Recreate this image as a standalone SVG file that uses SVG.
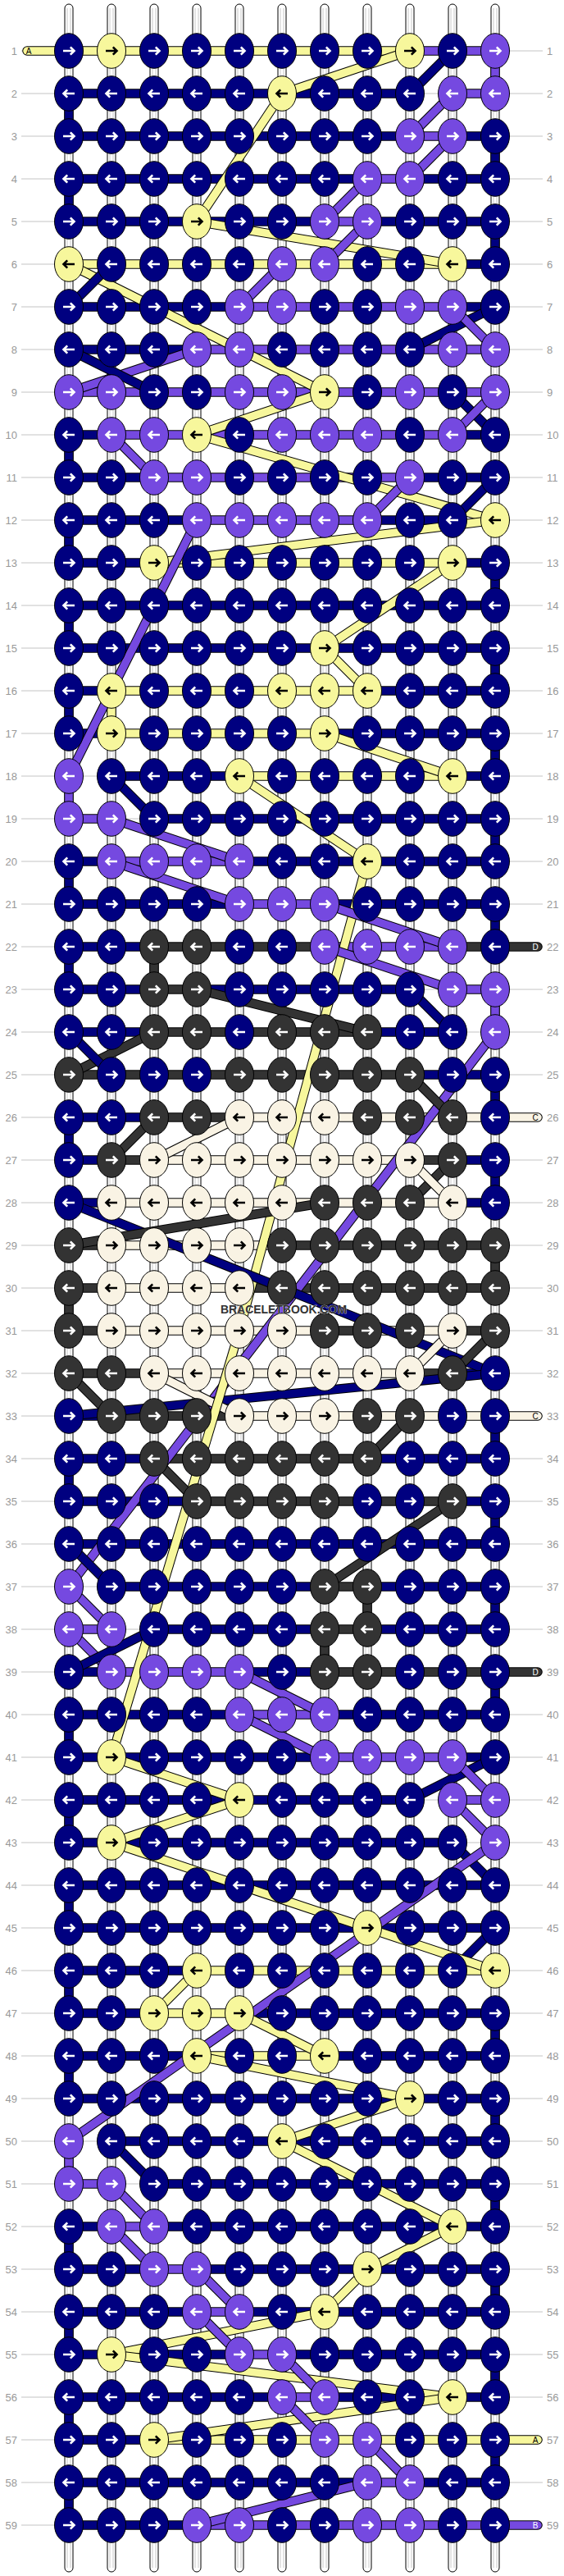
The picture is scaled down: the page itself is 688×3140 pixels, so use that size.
<svg xmlns="http://www.w3.org/2000/svg" xmlns:xlink="http://www.w3.org/1999/xlink" width="688" height="3140" viewBox="0 0 688 3140">
<style>
.k{stroke:#000;stroke-width:11.5;fill:none}
.n{stroke:#000080;stroke-width:9.5}
.p{stroke:#7549e0;stroke-width:9.5}
.y{stroke:#f7f79c;stroke-width:9.5}
.d{stroke:#333333;stroke-width:9.5}
.c{stroke:#f9f3e4;stroke-width:9.5}
.r{stroke-linecap:round}
.g{stroke:#c4c4c4;stroke-width:1}
.vs{fill:#fff;stroke:#000;stroke-width:1}
.vi{stroke:#c8c8c8;stroke-width:1}
ellipse{stroke:#000;stroke-width:1}
.eN{fill:#000080}.eP{fill:#7549e0}.eY{fill:#f7f79c}.eD{fill:#333333}.eC{fill:#f9f3e4}
.aw{fill:none;stroke:#fff;stroke-width:2.6}
.ab{fill:none;stroke:#000;stroke-width:2.6}
.lb{font-family:"Liberation Sans",Arial,sans-serif;font-size:13px;fill:#999}
.st{font-family:"Liberation Sans",Arial,sans-serif;font-size:10px;text-anchor:middle}
</style>
<defs>
<path id="ar" d="M-7 0H6M1.8 -4.6L6.5 0L1.8 4.6"/>
<g id="NR"><ellipse rx="17.5" ry="21.3" class="eN"/><use href="#ar" class="aw"/></g>
<g id="NL"><ellipse rx="17.5" ry="21.3" class="eN"/><use href="#ar" class="aw" transform="scale(-1,1)"/></g>
<g id="PR"><ellipse rx="17.5" ry="21.3" class="eP"/><use href="#ar" class="aw"/></g>
<g id="PL"><ellipse rx="17.5" ry="21.3" class="eP"/><use href="#ar" class="aw" transform="scale(-1,1)"/></g>
<g id="DR"><ellipse rx="17.5" ry="21.3" class="eD"/><use href="#ar" class="aw"/></g>
<g id="DL"><ellipse rx="17.5" ry="21.3" class="eD"/><use href="#ar" class="aw" transform="scale(-1,1)"/></g>
<g id="YR"><ellipse rx="17.5" ry="21.3" class="eY"/><use href="#ar" class="ab"/></g>
<g id="YL"><ellipse rx="17.5" ry="21.3" class="eY"/><use href="#ar" class="ab" transform="scale(-1,1)"/></g>
<g id="CR"><ellipse rx="17.5" ry="21.3" class="eC"/><use href="#ar" class="ab"/></g>
<g id="CL"><ellipse rx="17.5" ry="21.3" class="eC"/><use href="#ar" class="ab" transform="scale(-1,1)"/></g>
<g id="vstr"><path class="vs" d="M-5 3130V10A5 5 0 0 1 5 10V3130A5 5 0 0 1 -5 3130Z"/><path class="vi" d="M-2 10V3130M2 10V3130"/></g>
</defs>
<rect width="688" height="3140" fill="#fff"/>
<g id="guides">
<path class="g" d="M26 62H662M26 114H662M26 166H662M26 218H662M26 270H662M26 322H662M26 374H662M26 426H662M26 478H662M26 530H662M26 582H662M26 634H662M26 686H662M26 738H662M26 790H662M26 842H662M26 894H662M26 946H662M26 998H662M26 1050H662M26 1102H662M26 1154H662M26 1206H662M26 1258H662M26 1310H662M26 1362H662M26 1414H662M26 1466H662M26 1518H662M26 1570H662M26 1622H662M26 1674H662M26 1726H662M26 1778H662M26 1830H662M26 1882H662M26 1934H662M26 1986H662M26 2038H662M26 2090H662M26 2142H662M26 2194H662M26 2246H662M26 2298H662M26 2350H662M26 2402H662M26 2454H662M26 2506H662M26 2558H662M26 2610H662M26 2662H662M26 2714H662M26 2766H662M26 2818H662M26 2870H662M26 2922H662M26 2974H662M26 3026H662M26 3078H662"/>
</g>
<g id="strings">
<use href="#vstr" x="84"/><use href="#vstr" x="136"/><use href="#vstr" x="188"/><use href="#vstr" x="240"/><use href="#vstr" x="292"/><use href="#vstr" x="344"/><use href="#vstr" x="396"/><use href="#vstr" x="448"/><use href="#vstr" x="500"/><use href="#vstr" x="552"/><use href="#vstr" x="604"/>
</g>
<g id="connectors">
<g id="stubs">
<line class="k r" x1="33" y1="62" x2="84" y2="62"/><line class="y r" x1="33" y1="62" x2="84" y2="62"/>
<line class="k r" x1="604" y1="1154" x2="656" y2="1154"/><line class="d r" x1="604" y1="1154" x2="656" y2="1154"/>
<line class="k r" x1="604" y1="1362" x2="656" y2="1362"/><line class="c r" x1="604" y1="1362" x2="656" y2="1362"/>
<line class="k r" x1="604" y1="1726" x2="656" y2="1726"/><line class="c r" x1="604" y1="1726" x2="656" y2="1726"/>
<line class="k r" x1="604" y1="2038" x2="656" y2="2038"/><line class="d r" x1="604" y1="2038" x2="656" y2="2038"/>
<line class="k r" x1="604" y1="2974" x2="656" y2="2974"/><line class="y r" x1="604" y1="2974" x2="656" y2="2974"/>
<line class="k r" x1="604" y1="3078" x2="656" y2="3078"/><line class="p r" x1="604" y1="3078" x2="656" y2="3078"/>
</g>
<g id="rows">
<line class="k" x1="84" y1="62" x2="500" y2="62"/><line class="y" x1="84" y1="62" x2="500" y2="62"/>
<line class="k" x1="500" y1="62" x2="604" y2="62"/><line class="p" x1="500" y1="62" x2="604" y2="62"/>
<line class="k" x1="84" y1="114" x2="500" y2="114"/><line class="n" x1="84" y1="114" x2="500" y2="114"/>
<line class="k" x1="552" y1="114" x2="604" y2="114"/><line class="p" x1="552" y1="114" x2="604" y2="114"/>
<line class="k" x1="84" y1="166" x2="500" y2="166"/><line class="n" x1="84" y1="166" x2="500" y2="166"/>
<line class="k" x1="500" y1="166" x2="552" y2="166"/><line class="p" x1="500" y1="166" x2="552" y2="166"/>
<line class="k" x1="552" y1="166" x2="604" y2="166"/><line class="n" x1="552" y1="166" x2="604" y2="166"/>
<line class="k" x1="84" y1="218" x2="448" y2="218"/><line class="n" x1="84" y1="218" x2="448" y2="218"/>
<line class="k" x1="448" y1="218" x2="500" y2="218"/><line class="p" x1="448" y1="218" x2="500" y2="218"/>
<line class="k" x1="500" y1="218" x2="604" y2="218"/><line class="n" x1="500" y1="218" x2="604" y2="218"/>
<line class="k" x1="84" y1="270" x2="396" y2="270"/><line class="n" x1="84" y1="270" x2="396" y2="270"/>
<line class="k" x1="396" y1="270" x2="448" y2="270"/><line class="p" x1="396" y1="270" x2="448" y2="270"/>
<line class="k" x1="448" y1="270" x2="604" y2="270"/><line class="n" x1="448" y1="270" x2="604" y2="270"/>
<line class="k" x1="84" y1="322" x2="552" y2="322"/><line class="y" x1="84" y1="322" x2="552" y2="322"/>
<line class="k" x1="552" y1="322" x2="604" y2="322"/><line class="n" x1="552" y1="322" x2="604" y2="322"/>
<line class="k" x1="84" y1="374" x2="292" y2="374"/><line class="n" x1="84" y1="374" x2="292" y2="374"/>
<line class="k" x1="292" y1="374" x2="552" y2="374"/><line class="p" x1="292" y1="374" x2="552" y2="374"/>
<line class="k" x1="552" y1="374" x2="604" y2="374"/><line class="n" x1="552" y1="374" x2="604" y2="374"/>
<line class="k" x1="84" y1="426" x2="240" y2="426"/><line class="n" x1="84" y1="426" x2="240" y2="426"/>
<line class="k" x1="240" y1="426" x2="604" y2="426"/><line class="p" x1="240" y1="426" x2="604" y2="426"/>
<line class="k" x1="84" y1="478" x2="604" y2="478"/><line class="p" x1="84" y1="478" x2="604" y2="478"/>
<line class="k" x1="84" y1="530" x2="136" y2="530"/><line class="n" x1="84" y1="530" x2="136" y2="530"/>
<line class="k" x1="136" y1="530" x2="552" y2="530"/><line class="p" x1="136" y1="530" x2="552" y2="530"/>
<line class="k" x1="552" y1="530" x2="604" y2="530"/><line class="n" x1="552" y1="530" x2="604" y2="530"/>
<line class="k" x1="84" y1="582" x2="188" y2="582"/><line class="n" x1="84" y1="582" x2="188" y2="582"/>
<line class="k" x1="188" y1="582" x2="500" y2="582"/><line class="p" x1="188" y1="582" x2="500" y2="582"/>
<line class="k" x1="500" y1="582" x2="604" y2="582"/><line class="n" x1="500" y1="582" x2="604" y2="582"/>
<line class="k" x1="84" y1="634" x2="240" y2="634"/><line class="n" x1="84" y1="634" x2="240" y2="634"/>
<line class="k" x1="240" y1="634" x2="448" y2="634"/><line class="p" x1="240" y1="634" x2="448" y2="634"/>
<line class="k" x1="448" y1="634" x2="552" y2="634"/><line class="n" x1="448" y1="634" x2="552" y2="634"/>
<line class="k" x1="84" y1="686" x2="188" y2="686"/><line class="n" x1="84" y1="686" x2="188" y2="686"/>
<line class="k" x1="188" y1="686" x2="552" y2="686"/><line class="y" x1="188" y1="686" x2="552" y2="686"/>
<line class="k" x1="552" y1="686" x2="604" y2="686"/><line class="n" x1="552" y1="686" x2="604" y2="686"/>
<line class="k" x1="84" y1="738" x2="604" y2="738"/><line class="n" x1="84" y1="738" x2="604" y2="738"/>
<line class="k" x1="84" y1="790" x2="604" y2="790"/><line class="n" x1="84" y1="790" x2="604" y2="790"/>
<line class="k" x1="84" y1="842" x2="136" y2="842"/><line class="n" x1="84" y1="842" x2="136" y2="842"/>
<line class="k" x1="136" y1="842" x2="448" y2="842"/><line class="y" x1="136" y1="842" x2="448" y2="842"/>
<line class="k" x1="448" y1="842" x2="604" y2="842"/><line class="n" x1="448" y1="842" x2="604" y2="842"/>
<line class="k" x1="84" y1="894" x2="136" y2="894"/><line class="n" x1="84" y1="894" x2="136" y2="894"/>
<line class="k" x1="136" y1="894" x2="396" y2="894"/><line class="y" x1="136" y1="894" x2="396" y2="894"/>
<line class="k" x1="396" y1="894" x2="604" y2="894"/><line class="n" x1="396" y1="894" x2="604" y2="894"/>
<line class="k" x1="136" y1="946" x2="292" y2="946"/><line class="n" x1="136" y1="946" x2="292" y2="946"/>
<line class="k" x1="292" y1="946" x2="552" y2="946"/><line class="y" x1="292" y1="946" x2="552" y2="946"/>
<line class="k" x1="552" y1="946" x2="604" y2="946"/><line class="n" x1="552" y1="946" x2="604" y2="946"/>
<line class="k" x1="84" y1="998" x2="136" y2="998"/><line class="p" x1="84" y1="998" x2="136" y2="998"/>
<line class="k" x1="188" y1="998" x2="604" y2="998"/><line class="n" x1="188" y1="998" x2="604" y2="998"/>
<line class="k" x1="84" y1="1050" x2="136" y2="1050"/><line class="n" x1="84" y1="1050" x2="136" y2="1050"/>
<line class="k" x1="136" y1="1050" x2="292" y2="1050"/><line class="p" x1="136" y1="1050" x2="292" y2="1050"/>
<line class="k" x1="292" y1="1050" x2="604" y2="1050"/><line class="n" x1="292" y1="1050" x2="604" y2="1050"/>
<line class="k" x1="84" y1="1102" x2="292" y2="1102"/><line class="n" x1="84" y1="1102" x2="292" y2="1102"/>
<line class="k" x1="292" y1="1102" x2="396" y2="1102"/><line class="p" x1="292" y1="1102" x2="396" y2="1102"/>
<line class="k" x1="396" y1="1102" x2="604" y2="1102"/><line class="n" x1="396" y1="1102" x2="604" y2="1102"/>
<line class="k" x1="84" y1="1154" x2="188" y2="1154"/><line class="n" x1="84" y1="1154" x2="188" y2="1154"/>
<line class="k" x1="188" y1="1154" x2="396" y2="1154"/><line class="d" x1="188" y1="1154" x2="396" y2="1154"/>
<line class="k" x1="396" y1="1154" x2="552" y2="1154"/><line class="p" x1="396" y1="1154" x2="552" y2="1154"/>
<line class="k" x1="552" y1="1154" x2="604" y2="1154"/><line class="d" x1="552" y1="1154" x2="604" y2="1154"/>
<line class="k" x1="84" y1="1206" x2="188" y2="1206"/><line class="n" x1="84" y1="1206" x2="188" y2="1206"/>
<line class="k" x1="188" y1="1206" x2="240" y2="1206"/><line class="d" x1="188" y1="1206" x2="240" y2="1206"/>
<line class="k" x1="240" y1="1206" x2="500" y2="1206"/><line class="n" x1="240" y1="1206" x2="500" y2="1206"/>
<line class="k" x1="552" y1="1206" x2="604" y2="1206"/><line class="p" x1="552" y1="1206" x2="604" y2="1206"/>
<line class="k" x1="84" y1="1258" x2="188" y2="1258"/><line class="n" x1="84" y1="1258" x2="188" y2="1258"/>
<line class="k" x1="188" y1="1258" x2="448" y2="1258"/><line class="d" x1="188" y1="1258" x2="448" y2="1258"/>
<line class="k" x1="448" y1="1258" x2="552" y2="1258"/><line class="n" x1="448" y1="1258" x2="552" y2="1258"/>
<line class="k" x1="84" y1="1310" x2="500" y2="1310"/><line class="d" x1="84" y1="1310" x2="500" y2="1310"/>
<line class="k" x1="500" y1="1310" x2="604" y2="1310"/><line class="n" x1="500" y1="1310" x2="604" y2="1310"/>
<line class="k" x1="84" y1="1362" x2="188" y2="1362"/><line class="n" x1="84" y1="1362" x2="188" y2="1362"/>
<line class="k" x1="188" y1="1362" x2="292" y2="1362"/><line class="d" x1="188" y1="1362" x2="292" y2="1362"/>
<line class="k" x1="292" y1="1362" x2="604" y2="1362"/><line class="c" x1="292" y1="1362" x2="604" y2="1362"/>
<line class="k" x1="84" y1="1414" x2="136" y2="1414"/><line class="n" x1="84" y1="1414" x2="136" y2="1414"/>
<line class="k" x1="136" y1="1414" x2="188" y2="1414"/><line class="d" x1="136" y1="1414" x2="188" y2="1414"/>
<line class="k" x1="188" y1="1414" x2="500" y2="1414"/><line class="c" x1="188" y1="1414" x2="500" y2="1414"/>
<line class="k" x1="500" y1="1414" x2="552" y2="1414"/><line class="d" x1="500" y1="1414" x2="552" y2="1414"/>
<line class="k" x1="552" y1="1414" x2="604" y2="1414"/><line class="n" x1="552" y1="1414" x2="604" y2="1414"/>
<line class="k" x1="84" y1="1466" x2="136" y2="1466"/><line class="n" x1="84" y1="1466" x2="136" y2="1466"/>
<line class="k" x1="136" y1="1466" x2="552" y2="1466"/><line class="c" x1="136" y1="1466" x2="552" y2="1466"/>
<line class="k" x1="552" y1="1466" x2="604" y2="1466"/><line class="n" x1="552" y1="1466" x2="604" y2="1466"/>
<line class="k" x1="84" y1="1518" x2="136" y2="1518"/><line class="d" x1="84" y1="1518" x2="136" y2="1518"/>
<line class="k" x1="136" y1="1518" x2="344" y2="1518"/><line class="c" x1="136" y1="1518" x2="344" y2="1518"/>
<line class="k" x1="344" y1="1518" x2="604" y2="1518"/><line class="d" x1="344" y1="1518" x2="604" y2="1518"/>
<line class="k" x1="84" y1="1570" x2="136" y2="1570"/><line class="d" x1="84" y1="1570" x2="136" y2="1570"/>
<line class="k" x1="136" y1="1570" x2="292" y2="1570"/><line class="c" x1="136" y1="1570" x2="292" y2="1570"/>
<line class="k" x1="292" y1="1570" x2="604" y2="1570"/><line class="d" x1="292" y1="1570" x2="604" y2="1570"/>
<line class="k" x1="84" y1="1622" x2="136" y2="1622"/><line class="d" x1="84" y1="1622" x2="136" y2="1622"/>
<line class="k" x1="136" y1="1622" x2="396" y2="1622"/><line class="c" x1="136" y1="1622" x2="396" y2="1622"/>
<line class="k" x1="396" y1="1622" x2="448" y2="1622"/><line class="d" x1="396" y1="1622" x2="448" y2="1622"/>
<line class="k" x1="448" y1="1622" x2="552" y2="1622"/><line class="c" x1="448" y1="1622" x2="552" y2="1622"/>
<line class="k" x1="552" y1="1622" x2="604" y2="1622"/><line class="d" x1="552" y1="1622" x2="604" y2="1622"/>
<line class="k" x1="84" y1="1674" x2="188" y2="1674"/><line class="d" x1="84" y1="1674" x2="188" y2="1674"/>
<line class="k" x1="188" y1="1674" x2="500" y2="1674"/><line class="c" x1="188" y1="1674" x2="500" y2="1674"/>
<line class="k" x1="500" y1="1674" x2="552" y2="1674"/><line class="d" x1="500" y1="1674" x2="552" y2="1674"/>
<line class="k" x1="552" y1="1674" x2="604" y2="1674"/><line class="n" x1="552" y1="1674" x2="604" y2="1674"/>
<line class="k" x1="84" y1="1726" x2="136" y2="1726"/><line class="n" x1="84" y1="1726" x2="136" y2="1726"/>
<line class="k" x1="136" y1="1726" x2="292" y2="1726"/><line class="d" x1="136" y1="1726" x2="292" y2="1726"/>
<line class="k" x1="292" y1="1726" x2="604" y2="1726"/><line class="c" x1="292" y1="1726" x2="604" y2="1726"/>
<line class="k" x1="84" y1="1778" x2="188" y2="1778"/><line class="n" x1="84" y1="1778" x2="188" y2="1778"/>
<line class="k" x1="188" y1="1778" x2="448" y2="1778"/><line class="d" x1="188" y1="1778" x2="448" y2="1778"/>
<line class="k" x1="448" y1="1778" x2="604" y2="1778"/><line class="n" x1="448" y1="1778" x2="604" y2="1778"/>
<line class="k" x1="84" y1="1830" x2="240" y2="1830"/><line class="n" x1="84" y1="1830" x2="240" y2="1830"/>
<line class="k" x1="240" y1="1830" x2="552" y2="1830"/><line class="d" x1="240" y1="1830" x2="552" y2="1830"/>
<line class="k" x1="552" y1="1830" x2="604" y2="1830"/><line class="n" x1="552" y1="1830" x2="604" y2="1830"/>
<line class="k" x1="84" y1="1882" x2="604" y2="1882"/><line class="n" x1="84" y1="1882" x2="604" y2="1882"/>
<line class="k" x1="136" y1="1934" x2="396" y2="1934"/><line class="n" x1="136" y1="1934" x2="396" y2="1934"/>
<line class="k" x1="396" y1="1934" x2="448" y2="1934"/><line class="d" x1="396" y1="1934" x2="448" y2="1934"/>
<line class="k" x1="448" y1="1934" x2="604" y2="1934"/><line class="n" x1="448" y1="1934" x2="604" y2="1934"/>
<line class="k" x1="84" y1="1986" x2="136" y2="1986"/><line class="p" x1="84" y1="1986" x2="136" y2="1986"/>
<line class="k" x1="188" y1="1986" x2="396" y2="1986"/><line class="n" x1="188" y1="1986" x2="396" y2="1986"/>
<line class="k" x1="396" y1="1986" x2="448" y2="1986"/><line class="d" x1="396" y1="1986" x2="448" y2="1986"/>
<line class="k" x1="448" y1="1986" x2="604" y2="1986"/><line class="n" x1="448" y1="1986" x2="604" y2="1986"/>
<line class="k" x1="84" y1="2038" x2="136" y2="2038"/><line class="n" x1="84" y1="2038" x2="136" y2="2038"/>
<line class="k" x1="136" y1="2038" x2="292" y2="2038"/><line class="p" x1="136" y1="2038" x2="292" y2="2038"/>
<line class="k" x1="292" y1="2038" x2="396" y2="2038"/><line class="n" x1="292" y1="2038" x2="396" y2="2038"/>
<line class="k" x1="396" y1="2038" x2="604" y2="2038"/><line class="d" x1="396" y1="2038" x2="604" y2="2038"/>
<line class="k" x1="84" y1="2090" x2="292" y2="2090"/><line class="n" x1="84" y1="2090" x2="292" y2="2090"/>
<line class="k" x1="292" y1="2090" x2="396" y2="2090"/><line class="p" x1="292" y1="2090" x2="396" y2="2090"/>
<line class="k" x1="396" y1="2090" x2="604" y2="2090"/><line class="n" x1="396" y1="2090" x2="604" y2="2090"/>
<line class="k" x1="84" y1="2142" x2="396" y2="2142"/><line class="n" x1="84" y1="2142" x2="396" y2="2142"/>
<line class="k" x1="396" y1="2142" x2="552" y2="2142"/><line class="p" x1="396" y1="2142" x2="552" y2="2142"/>
<line class="k" x1="552" y1="2142" x2="604" y2="2142"/><line class="n" x1="552" y1="2142" x2="604" y2="2142"/>
<line class="k" x1="84" y1="2194" x2="500" y2="2194"/><line class="n" x1="84" y1="2194" x2="500" y2="2194"/>
<line class="k" x1="552" y1="2194" x2="604" y2="2194"/><line class="p" x1="552" y1="2194" x2="604" y2="2194"/>
<line class="k" x1="84" y1="2246" x2="552" y2="2246"/><line class="n" x1="84" y1="2246" x2="552" y2="2246"/>
<line class="k" x1="84" y1="2298" x2="604" y2="2298"/><line class="n" x1="84" y1="2298" x2="604" y2="2298"/>
<line class="k" x1="84" y1="2350" x2="604" y2="2350"/><line class="n" x1="84" y1="2350" x2="604" y2="2350"/>
<line class="k" x1="84" y1="2402" x2="240" y2="2402"/><line class="n" x1="84" y1="2402" x2="240" y2="2402"/>
<line class="k" x1="240" y1="2402" x2="604" y2="2402"/><line class="y" x1="240" y1="2402" x2="604" y2="2402"/>
<line class="k" x1="84" y1="2454" x2="188" y2="2454"/><line class="n" x1="84" y1="2454" x2="188" y2="2454"/>
<line class="k" x1="188" y1="2454" x2="292" y2="2454"/><line class="y" x1="188" y1="2454" x2="292" y2="2454"/>
<line class="k" x1="292" y1="2454" x2="604" y2="2454"/><line class="n" x1="292" y1="2454" x2="604" y2="2454"/>
<line class="k" x1="84" y1="2506" x2="240" y2="2506"/><line class="n" x1="84" y1="2506" x2="240" y2="2506"/>
<line class="k" x1="240" y1="2506" x2="396" y2="2506"/><line class="y" x1="240" y1="2506" x2="396" y2="2506"/>
<line class="k" x1="396" y1="2506" x2="604" y2="2506"/><line class="n" x1="396" y1="2506" x2="604" y2="2506"/>
<line class="k" x1="84" y1="2558" x2="604" y2="2558"/><line class="n" x1="84" y1="2558" x2="604" y2="2558"/>
<line class="k" x1="136" y1="2610" x2="604" y2="2610"/><line class="n" x1="136" y1="2610" x2="604" y2="2610"/>
<line class="k" x1="84" y1="2662" x2="136" y2="2662"/><line class="p" x1="84" y1="2662" x2="136" y2="2662"/>
<line class="k" x1="188" y1="2662" x2="604" y2="2662"/><line class="n" x1="188" y1="2662" x2="604" y2="2662"/>
<line class="k" x1="84" y1="2714" x2="136" y2="2714"/><line class="n" x1="84" y1="2714" x2="136" y2="2714"/>
<line class="k" x1="136" y1="2714" x2="188" y2="2714"/><line class="p" x1="136" y1="2714" x2="188" y2="2714"/>
<line class="k" x1="188" y1="2714" x2="604" y2="2714"/><line class="n" x1="188" y1="2714" x2="604" y2="2714"/>
<line class="k" x1="84" y1="2766" x2="188" y2="2766"/><line class="n" x1="84" y1="2766" x2="188" y2="2766"/>
<line class="k" x1="188" y1="2766" x2="240" y2="2766"/><line class="p" x1="188" y1="2766" x2="240" y2="2766"/>
<line class="k" x1="240" y1="2766" x2="604" y2="2766"/><line class="n" x1="240" y1="2766" x2="604" y2="2766"/>
<line class="k" x1="84" y1="2818" x2="240" y2="2818"/><line class="n" x1="84" y1="2818" x2="240" y2="2818"/>
<line class="k" x1="240" y1="2818" x2="292" y2="2818"/><line class="p" x1="240" y1="2818" x2="292" y2="2818"/>
<line class="k" x1="292" y1="2818" x2="604" y2="2818"/><line class="n" x1="292" y1="2818" x2="604" y2="2818"/>
<line class="k" x1="84" y1="2870" x2="292" y2="2870"/><line class="n" x1="84" y1="2870" x2="292" y2="2870"/>
<line class="k" x1="292" y1="2870" x2="344" y2="2870"/><line class="p" x1="292" y1="2870" x2="344" y2="2870"/>
<line class="k" x1="344" y1="2870" x2="604" y2="2870"/><line class="n" x1="344" y1="2870" x2="604" y2="2870"/>
<line class="k" x1="84" y1="2922" x2="344" y2="2922"/><line class="n" x1="84" y1="2922" x2="344" y2="2922"/>
<line class="k" x1="344" y1="2922" x2="396" y2="2922"/><line class="p" x1="344" y1="2922" x2="396" y2="2922"/>
<line class="k" x1="396" y1="2922" x2="604" y2="2922"/><line class="n" x1="396" y1="2922" x2="604" y2="2922"/>
<line class="k" x1="84" y1="2974" x2="188" y2="2974"/><line class="n" x1="84" y1="2974" x2="188" y2="2974"/>
<line class="k" x1="188" y1="2974" x2="604" y2="2974"/><line class="y" x1="188" y1="2974" x2="604" y2="2974"/>
<line class="k" x1="84" y1="3026" x2="448" y2="3026"/><line class="n" x1="84" y1="3026" x2="448" y2="3026"/>
<line class="k" x1="448" y1="3026" x2="500" y2="3026"/><line class="p" x1="448" y1="3026" x2="500" y2="3026"/>
<line class="k" x1="500" y1="3026" x2="604" y2="3026"/><line class="n" x1="500" y1="3026" x2="604" y2="3026"/>
<line class="k" x1="84" y1="3078" x2="240" y2="3078"/><line class="n" x1="84" y1="3078" x2="240" y2="3078"/>
<line class="k" x1="240" y1="3078" x2="604" y2="3078"/><line class="p" x1="240" y1="3078" x2="604" y2="3078"/>
</g>
<g id="turns">
<line class="k" x1="604" y1="62" x2="604" y2="114"/><line class="p" x1="604" y1="62" x2="604" y2="114"/>
<line class="k" x1="84" y1="114" x2="84" y2="166"/><line class="n" x1="84" y1="114" x2="84" y2="166"/>
<line class="k" x1="604" y1="166" x2="604" y2="218"/><line class="n" x1="604" y1="166" x2="604" y2="218"/>
<line class="k" x1="84" y1="218" x2="84" y2="270"/><line class="n" x1="84" y1="218" x2="84" y2="270"/>
<line class="k" x1="604" y1="270" x2="604" y2="322"/><line class="n" x1="604" y1="270" x2="604" y2="322"/>
<line class="k" x1="84" y1="530" x2="84" y2="582"/><line class="n" x1="84" y1="530" x2="84" y2="582"/>
<line class="k" x1="84" y1="634" x2="84" y2="686"/><line class="n" x1="84" y1="634" x2="84" y2="686"/>
<line class="k" x1="604" y1="686" x2="604" y2="738"/><line class="n" x1="604" y1="686" x2="604" y2="738"/>
<line class="k" x1="84" y1="738" x2="84" y2="790"/><line class="n" x1="84" y1="738" x2="84" y2="790"/>
<line class="k" x1="604" y1="790" x2="604" y2="842"/><line class="n" x1="604" y1="790" x2="604" y2="842"/>
<line class="k" x1="84" y1="842" x2="84" y2="894"/><line class="n" x1="84" y1="842" x2="84" y2="894"/>
<line class="k" x1="136" y1="842" x2="136" y2="894"/><line class="y" x1="136" y1="842" x2="136" y2="894"/>
<line class="k" x1="604" y1="894" x2="604" y2="946"/><line class="n" x1="604" y1="894" x2="604" y2="946"/>
<line class="k" x1="84" y1="946" x2="84" y2="998"/><line class="p" x1="84" y1="946" x2="84" y2="998"/>
<line class="k" x1="604" y1="998" x2="604" y2="1050"/><line class="n" x1="604" y1="998" x2="604" y2="1050"/>
<line class="k" x1="84" y1="1050" x2="84" y2="1102"/><line class="n" x1="84" y1="1050" x2="84" y2="1102"/>
<line class="k" x1="604" y1="1102" x2="604" y2="1154"/><line class="n" x1="604" y1="1102" x2="604" y2="1154"/>
<line class="k" x1="84" y1="1154" x2="84" y2="1206"/><line class="n" x1="84" y1="1154" x2="84" y2="1206"/>
<line class="k" x1="188" y1="1154" x2="188" y2="1206"/><line class="d" x1="188" y1="1154" x2="188" y2="1206"/>
<line class="k" x1="604" y1="1206" x2="604" y2="1258"/><line class="p" x1="604" y1="1206" x2="604" y2="1258"/>
<line class="k" x1="604" y1="1310" x2="604" y2="1362"/><line class="n" x1="604" y1="1310" x2="604" y2="1362"/>
<line class="k" x1="84" y1="1362" x2="84" y2="1414"/><line class="n" x1="84" y1="1362" x2="84" y2="1414"/>
<line class="k" x1="604" y1="1414" x2="604" y2="1466"/><line class="n" x1="604" y1="1414" x2="604" y2="1466"/>
<line class="k" x1="604" y1="1518" x2="604" y2="1570"/><line class="d" x1="604" y1="1518" x2="604" y2="1570"/>
<line class="k" x1="84" y1="1570" x2="84" y2="1622"/><line class="d" x1="84" y1="1570" x2="84" y2="1622"/>
<line class="k" x1="604" y1="1726" x2="604" y2="1778"/><line class="n" x1="604" y1="1726" x2="604" y2="1778"/>
<line class="k" x1="84" y1="1778" x2="84" y2="1830"/><line class="n" x1="84" y1="1778" x2="84" y2="1830"/>
<line class="k" x1="604" y1="1830" x2="604" y2="1882"/><line class="n" x1="604" y1="1830" x2="604" y2="1882"/>
<line class="k" x1="604" y1="1934" x2="604" y2="1986"/><line class="n" x1="604" y1="1934" x2="604" y2="1986"/>
<line class="k" x1="448" y1="1934" x2="448" y2="1986"/><line class="d" x1="448" y1="1934" x2="448" y2="1986"/>
<line class="k" x1="396" y1="1986" x2="396" y2="2038"/><line class="d" x1="396" y1="1986" x2="396" y2="2038"/>
<line class="k" x1="604" y1="2038" x2="604" y2="2090"/><line class="n" x1="604" y1="2038" x2="604" y2="2090"/>
<line class="k" x1="84" y1="2090" x2="84" y2="2142"/><line class="n" x1="84" y1="2090" x2="84" y2="2142"/>
<line class="k" x1="84" y1="2194" x2="84" y2="2246"/><line class="n" x1="84" y1="2194" x2="84" y2="2246"/>
<line class="k" x1="84" y1="2298" x2="84" y2="2350"/><line class="n" x1="84" y1="2298" x2="84" y2="2350"/>
<line class="k" x1="84" y1="2402" x2="84" y2="2454"/><line class="n" x1="84" y1="2402" x2="84" y2="2454"/>
<line class="k" x1="604" y1="2454" x2="604" y2="2506"/><line class="n" x1="604" y1="2454" x2="604" y2="2506"/>
<line class="k" x1="84" y1="2506" x2="84" y2="2558"/><line class="n" x1="84" y1="2506" x2="84" y2="2558"/>
<line class="k" x1="604" y1="2558" x2="604" y2="2610"/><line class="n" x1="604" y1="2558" x2="604" y2="2610"/>
<line class="k" x1="84" y1="2610" x2="84" y2="2662"/><line class="p" x1="84" y1="2610" x2="84" y2="2662"/>
<line class="k" x1="604" y1="2662" x2="604" y2="2714"/><line class="n" x1="604" y1="2662" x2="604" y2="2714"/>
<line class="k" x1="84" y1="2714" x2="84" y2="2766"/><line class="n" x1="84" y1="2714" x2="84" y2="2766"/>
<line class="k" x1="604" y1="2766" x2="604" y2="2818"/><line class="n" x1="604" y1="2766" x2="604" y2="2818"/>
<line class="k" x1="84" y1="2818" x2="84" y2="2870"/><line class="n" x1="84" y1="2818" x2="84" y2="2870"/>
<line class="k" x1="604" y1="2870" x2="604" y2="2922"/><line class="n" x1="604" y1="2870" x2="604" y2="2922"/>
<line class="k" x1="84" y1="2922" x2="84" y2="2974"/><line class="n" x1="84" y1="2922" x2="84" y2="2974"/>
<line class="k" x1="604" y1="2974" x2="604" y2="3026"/><line class="n" x1="604" y1="2974" x2="604" y2="3026"/>
<line class="k" x1="84" y1="3026" x2="84" y2="3078"/><line class="n" x1="84" y1="3026" x2="84" y2="3078"/>
</g>
<g id="diagonals">
<line class="k" x1="500" y1="62" x2="344" y2="114"/><line class="y" x1="500" y1="62" x2="344" y2="114"/>
<line class="k" x1="552" y1="62" x2="500" y2="114"/><line class="n" x1="552" y1="62" x2="500" y2="114"/>
<line class="k" x1="344" y1="114" x2="240" y2="270"/><line class="y" x1="344" y1="114" x2="240" y2="270"/>
<line class="k" x1="552" y1="114" x2="500" y2="166"/><line class="p" x1="552" y1="114" x2="500" y2="166"/>
<line class="k" x1="552" y1="166" x2="500" y2="218"/><line class="p" x1="552" y1="166" x2="500" y2="218"/>
<line class="k" x1="448" y1="218" x2="396" y2="270"/><line class="p" x1="448" y1="218" x2="396" y2="270"/>
<line class="k" x1="240" y1="270" x2="552" y2="322"/><line class="y" x1="240" y1="270" x2="552" y2="322"/>
<line class="k" x1="448" y1="270" x2="396" y2="322"/><line class="p" x1="448" y1="270" x2="396" y2="322"/>
<line class="k" x1="84" y1="322" x2="396" y2="478"/><line class="y" x1="84" y1="322" x2="396" y2="478"/>
<line class="k" x1="136" y1="322" x2="84" y2="374"/><line class="n" x1="136" y1="322" x2="84" y2="374"/>
<line class="k" x1="344" y1="322" x2="292" y2="374"/><line class="p" x1="344" y1="322" x2="292" y2="374"/>
<line class="k" x1="604" y1="374" x2="500" y2="426"/><line class="n" x1="604" y1="374" x2="500" y2="426"/>
<line class="k" x1="552" y1="374" x2="604" y2="426"/><line class="p" x1="552" y1="374" x2="604" y2="426"/>
<line class="k" x1="240" y1="426" x2="84" y2="478"/><line class="p" x1="240" y1="426" x2="84" y2="478"/>
<line class="k" x1="84" y1="426" x2="188" y2="478"/><line class="n" x1="84" y1="426" x2="188" y2="478"/>
<line class="k" x1="396" y1="478" x2="240" y2="530"/><line class="y" x1="396" y1="478" x2="240" y2="530"/>
<line class="k" x1="552" y1="478" x2="604" y2="530"/><line class="n" x1="552" y1="478" x2="604" y2="530"/>
<line class="k" x1="604" y1="478" x2="552" y2="530"/><line class="p" x1="604" y1="478" x2="552" y2="530"/>
<line class="k" x1="240" y1="530" x2="604" y2="634"/><line class="y" x1="240" y1="530" x2="604" y2="634"/>
<line class="k" x1="136" y1="530" x2="188" y2="582"/><line class="p" x1="136" y1="530" x2="188" y2="582"/>
<line class="k" x1="604" y1="582" x2="552" y2="634"/><line class="n" x1="604" y1="582" x2="552" y2="634"/>
<line class="k" x1="500" y1="582" x2="448" y2="634"/><line class="p" x1="500" y1="582" x2="448" y2="634"/>
<line class="k" x1="604" y1="634" x2="188" y2="686"/><line class="y" x1="604" y1="634" x2="188" y2="686"/>
<line class="k" x1="240" y1="634" x2="84" y2="946"/><line class="p" x1="240" y1="634" x2="84" y2="946"/>
<line class="k" x1="552" y1="686" x2="396" y2="790"/><line class="y" x1="552" y1="686" x2="396" y2="790"/>
<line class="k" x1="396" y1="790" x2="448" y2="842"/><line class="y" x1="396" y1="790" x2="448" y2="842"/>
<line class="k" x1="396" y1="894" x2="552" y2="946"/><line class="y" x1="396" y1="894" x2="552" y2="946"/>
<line class="k" x1="136" y1="946" x2="188" y2="998"/><line class="n" x1="136" y1="946" x2="188" y2="998"/>
<line class="k" x1="292" y1="946" x2="448" y2="1050"/><line class="y" x1="292" y1="946" x2="448" y2="1050"/>
<line class="k" x1="136" y1="998" x2="292" y2="1050"/><line class="p" x1="136" y1="998" x2="292" y2="1050"/>
<line class="k" x1="136" y1="1050" x2="292" y2="1102"/><line class="p" x1="136" y1="1050" x2="292" y2="1102"/>
<line class="k" x1="448" y1="1050" x2="292" y2="1622"/><line class="y" x1="448" y1="1050" x2="292" y2="1622"/>
<line class="k" x1="396" y1="1102" x2="552" y2="1154"/><line class="p" x1="396" y1="1102" x2="552" y2="1154"/>
<line class="k" x1="396" y1="1154" x2="552" y2="1206"/><line class="p" x1="396" y1="1154" x2="552" y2="1206"/>
<line class="k" x1="240" y1="1206" x2="448" y2="1258"/><line class="d" x1="240" y1="1206" x2="448" y2="1258"/>
<line class="k" x1="500" y1="1206" x2="552" y2="1258"/><line class="n" x1="500" y1="1206" x2="552" y2="1258"/>
<line class="k" x1="188" y1="1258" x2="84" y2="1310"/><line class="d" x1="188" y1="1258" x2="84" y2="1310"/>
<line class="k" x1="84" y1="1258" x2="136" y2="1310"/><line class="n" x1="84" y1="1258" x2="136" y2="1310"/>
<line class="k" x1="604" y1="1258" x2="84" y2="1934"/><line class="p" x1="604" y1="1258" x2="84" y2="1934"/>
<line class="k" x1="500" y1="1310" x2="552" y2="1362"/><line class="d" x1="500" y1="1310" x2="552" y2="1362"/>
<line class="k" x1="292" y1="1362" x2="188" y2="1414"/><line class="c" x1="292" y1="1362" x2="188" y2="1414"/>
<line class="k" x1="188" y1="1362" x2="136" y2="1414"/><line class="d" x1="188" y1="1362" x2="136" y2="1414"/>
<line class="k" x1="552" y1="1414" x2="500" y2="1466"/><line class="d" x1="552" y1="1414" x2="500" y2="1466"/>
<line class="k" x1="500" y1="1414" x2="552" y2="1466"/><line class="c" x1="500" y1="1414" x2="552" y2="1466"/>
<line class="k" x1="84" y1="1466" x2="604" y2="1674"/><line class="n" x1="84" y1="1466" x2="604" y2="1674"/>
<line class="k" x1="396" y1="1466" x2="84" y2="1518"/><line class="d" x1="396" y1="1466" x2="84" y2="1518"/>
<line class="k" x1="604" y1="1622" x2="552" y2="1674"/><line class="d" x1="604" y1="1622" x2="552" y2="1674"/>
<line class="k" x1="552" y1="1622" x2="500" y2="1674"/><line class="c" x1="552" y1="1622" x2="500" y2="1674"/>
<line class="k" x1="604" y1="1674" x2="84" y2="1726"/><line class="n" x1="604" y1="1674" x2="84" y2="1726"/>
<line class="k" x1="84" y1="1674" x2="136" y2="1726"/><line class="d" x1="84" y1="1674" x2="136" y2="1726"/>
<line class="k" x1="188" y1="1674" x2="292" y2="1726"/><line class="c" x1="188" y1="1674" x2="292" y2="1726"/>
<line class="k" x1="500" y1="1726" x2="448" y2="1778"/><line class="d" x1="500" y1="1726" x2="448" y2="1778"/>
<line class="k" x1="188" y1="1778" x2="240" y2="1830"/><line class="d" x1="188" y1="1778" x2="240" y2="1830"/>
<line class="k" x1="552" y1="1830" x2="396" y2="1934"/><line class="d" x1="552" y1="1830" x2="396" y2="1934"/>
<line class="k" x1="84" y1="1882" x2="136" y2="1934"/><line class="n" x1="84" y1="1882" x2="136" y2="1934"/>
<line class="k" x1="84" y1="1934" x2="136" y2="1986"/><line class="p" x1="84" y1="1934" x2="136" y2="1986"/>
<line class="k" x1="84" y1="1986" x2="136" y2="2038"/><line class="p" x1="84" y1="1986" x2="136" y2="2038"/>
<line class="k" x1="188" y1="1986" x2="84" y2="2038"/><line class="n" x1="188" y1="1986" x2="84" y2="2038"/>
<line class="k" x1="292" y1="1622" x2="136" y2="2142"/><line class="y" x1="292" y1="1622" x2="136" y2="2142"/>
<line class="k" x1="292" y1="2038" x2="396" y2="2090"/><line class="p" x1="292" y1="2038" x2="396" y2="2090"/>
<line class="k" x1="292" y1="2090" x2="396" y2="2142"/><line class="p" x1="292" y1="2090" x2="396" y2="2142"/>
<line class="k" x1="604" y1="2142" x2="500" y2="2194"/><line class="n" x1="604" y1="2142" x2="500" y2="2194"/>
<line class="k" x1="552" y1="2142" x2="604" y2="2194"/><line class="p" x1="552" y1="2142" x2="604" y2="2194"/>
<line class="k" x1="136" y1="2142" x2="292" y2="2194"/><line class="y" x1="136" y1="2142" x2="292" y2="2194"/>
<line class="k" x1="292" y1="2194" x2="136" y2="2246"/><line class="y" x1="292" y1="2194" x2="136" y2="2246"/>
<line class="k" x1="552" y1="2194" x2="604" y2="2246"/><line class="p" x1="552" y1="2194" x2="604" y2="2246"/>
<line class="k" x1="136" y1="2246" x2="448" y2="2350"/><line class="y" x1="136" y1="2246" x2="448" y2="2350"/>
<line class="k" x1="552" y1="2246" x2="604" y2="2298"/><line class="n" x1="552" y1="2246" x2="604" y2="2298"/>
<line class="k" x1="604" y1="2246" x2="84" y2="2610"/><line class="p" x1="604" y1="2246" x2="84" y2="2610"/>
<line class="k" x1="604" y1="2350" x2="552" y2="2402"/><line class="n" x1="604" y1="2350" x2="552" y2="2402"/>
<line class="k" x1="448" y1="2350" x2="604" y2="2402"/><line class="y" x1="448" y1="2350" x2="604" y2="2402"/>
<line class="k" x1="240" y1="2402" x2="188" y2="2454"/><line class="y" x1="240" y1="2402" x2="188" y2="2454"/>
<line class="k" x1="292" y1="2454" x2="396" y2="2506"/><line class="y" x1="292" y1="2454" x2="396" y2="2506"/>
<line class="k" x1="240" y1="2506" x2="500" y2="2558"/><line class="y" x1="240" y1="2506" x2="500" y2="2558"/>
<line class="k" x1="500" y1="2558" x2="344" y2="2610"/><line class="y" x1="500" y1="2558" x2="344" y2="2610"/>
<line class="k" x1="136" y1="2610" x2="188" y2="2662"/><line class="n" x1="136" y1="2610" x2="188" y2="2662"/>
<line class="k" x1="344" y1="2610" x2="552" y2="2714"/><line class="y" x1="344" y1="2610" x2="552" y2="2714"/>
<line class="k" x1="136" y1="2662" x2="188" y2="2714"/><line class="p" x1="136" y1="2662" x2="188" y2="2714"/>
<line class="k" x1="136" y1="2714" x2="188" y2="2766"/><line class="p" x1="136" y1="2714" x2="188" y2="2766"/>
<line class="k" x1="552" y1="2714" x2="448" y2="2766"/><line class="y" x1="552" y1="2714" x2="448" y2="2766"/>
<line class="k" x1="240" y1="2766" x2="292" y2="2818"/><line class="p" x1="240" y1="2766" x2="292" y2="2818"/>
<line class="k" x1="448" y1="2766" x2="396" y2="2818"/><line class="y" x1="448" y1="2766" x2="396" y2="2818"/>
<line class="k" x1="396" y1="2818" x2="136" y2="2870"/><line class="y" x1="396" y1="2818" x2="136" y2="2870"/>
<line class="k" x1="240" y1="2818" x2="292" y2="2870"/><line class="p" x1="240" y1="2818" x2="292" y2="2870"/>
<line class="k" x1="136" y1="2870" x2="552" y2="2922"/><line class="y" x1="136" y1="2870" x2="552" y2="2922"/>
<line class="k" x1="344" y1="2870" x2="396" y2="2922"/><line class="p" x1="344" y1="2870" x2="396" y2="2922"/>
<line class="k" x1="552" y1="2922" x2="188" y2="2974"/><line class="y" x1="552" y1="2922" x2="188" y2="2974"/>
<line class="k" x1="344" y1="2922" x2="396" y2="2974"/><line class="p" x1="344" y1="2922" x2="396" y2="2974"/>
<line class="k" x1="448" y1="2974" x2="500" y2="3026"/><line class="p" x1="448" y1="2974" x2="500" y2="3026"/>
<line class="k" x1="448" y1="3026" x2="240" y2="3078"/><line class="p" x1="448" y1="3026" x2="240" y2="3078"/>
</g>
</g>
<g id="nodes">
<g id="k1-1"><use href="#NR" x="84" y="62"/></g><g id="k1-2"><use href="#YR" x="136" y="62"/></g><g id="k1-3"><use href="#NR" x="188" y="62"/></g><g id="k1-4"><use href="#NR" x="240" y="62"/></g><g id="k1-5"><use href="#NR" x="292" y="62"/></g><g id="k1-6"><use href="#NR" x="344" y="62"/></g><g id="k1-7"><use href="#NR" x="396" y="62"/></g><g id="k1-8"><use href="#NR" x="448" y="62"/></g><g id="k1-9"><use href="#YR" x="500" y="62"/></g><g id="k1-10"><use href="#NR" x="552" y="62"/></g><g id="k1-11"><use href="#PR" x="604" y="62"/></g>
<g id="k2-1"><use href="#NL" x="84" y="114"/></g><g id="k2-2"><use href="#NL" x="136" y="114"/></g><g id="k2-3"><use href="#NL" x="188" y="114"/></g><g id="k2-4"><use href="#NL" x="240" y="114"/></g><g id="k2-5"><use href="#NL" x="292" y="114"/></g><g id="k2-6"><use href="#YL" x="344" y="114"/></g><g id="k2-7"><use href="#NL" x="396" y="114"/></g><g id="k2-8"><use href="#NL" x="448" y="114"/></g><g id="k2-9"><use href="#NL" x="500" y="114"/></g><g id="k2-10"><use href="#PL" x="552" y="114"/></g><g id="k2-11"><use href="#PL" x="604" y="114"/></g>
<g id="k3-1"><use href="#NR" x="84" y="166"/></g><g id="k3-2"><use href="#NR" x="136" y="166"/></g><g id="k3-3"><use href="#NR" x="188" y="166"/></g><g id="k3-4"><use href="#NR" x="240" y="166"/></g><g id="k3-5"><use href="#NR" x="292" y="166"/></g><g id="k3-6"><use href="#NR" x="344" y="166"/></g><g id="k3-7"><use href="#NR" x="396" y="166"/></g><g id="k3-8"><use href="#NR" x="448" y="166"/></g><g id="k3-9"><use href="#PR" x="500" y="166"/></g><g id="k3-10"><use href="#PR" x="552" y="166"/></g><g id="k3-11"><use href="#NR" x="604" y="166"/></g>
<g id="k4-1"><use href="#NL" x="84" y="218"/></g><g id="k4-2"><use href="#NL" x="136" y="218"/></g><g id="k4-3"><use href="#NL" x="188" y="218"/></g><g id="k4-4"><use href="#NL" x="240" y="218"/></g><g id="k4-5"><use href="#NL" x="292" y="218"/></g><g id="k4-6"><use href="#NL" x="344" y="218"/></g><g id="k4-7"><use href="#NL" x="396" y="218"/></g><g id="k4-8"><use href="#PL" x="448" y="218"/></g><g id="k4-9"><use href="#PL" x="500" y="218"/></g><g id="k4-10"><use href="#NL" x="552" y="218"/></g><g id="k4-11"><use href="#NL" x="604" y="218"/></g>
<g id="k5-1"><use href="#NR" x="84" y="270"/></g><g id="k5-2"><use href="#NR" x="136" y="270"/></g><g id="k5-3"><use href="#NR" x="188" y="270"/></g><g id="k5-4"><use href="#YR" x="240" y="270"/></g><g id="k5-5"><use href="#NR" x="292" y="270"/></g><g id="k5-6"><use href="#NR" x="344" y="270"/></g><g id="k5-7"><use href="#PR" x="396" y="270"/></g><g id="k5-8"><use href="#PR" x="448" y="270"/></g><g id="k5-9"><use href="#NR" x="500" y="270"/></g><g id="k5-10"><use href="#NR" x="552" y="270"/></g><g id="k5-11"><use href="#NR" x="604" y="270"/></g>
<g id="k6-1"><use href="#YL" x="84" y="322"/></g><g id="k6-2"><use href="#NL" x="136" y="322"/></g><g id="k6-3"><use href="#NL" x="188" y="322"/></g><g id="k6-4"><use href="#NL" x="240" y="322"/></g><g id="k6-5"><use href="#NL" x="292" y="322"/></g><g id="k6-6"><use href="#PL" x="344" y="322"/></g><g id="k6-7"><use href="#PL" x="396" y="322"/></g><g id="k6-8"><use href="#NL" x="448" y="322"/></g><g id="k6-9"><use href="#NL" x="500" y="322"/></g><g id="k6-10"><use href="#YL" x="552" y="322"/></g><g id="k6-11"><use href="#NL" x="604" y="322"/></g>
<g id="k7-1"><use href="#NR" x="84" y="374"/></g><g id="k7-2"><use href="#NR" x="136" y="374"/></g><g id="k7-3"><use href="#NR" x="188" y="374"/></g><g id="k7-4"><use href="#NR" x="240" y="374"/></g><g id="k7-5"><use href="#PR" x="292" y="374"/></g><g id="k7-6"><use href="#PR" x="344" y="374"/></g><g id="k7-7"><use href="#NR" x="396" y="374"/></g><g id="k7-8"><use href="#NR" x="448" y="374"/></g><g id="k7-9"><use href="#PR" x="500" y="374"/></g><g id="k7-10"><use href="#PR" x="552" y="374"/></g><g id="k7-11"><use href="#NR" x="604" y="374"/></g>
<g id="k8-1"><use href="#NL" x="84" y="426"/></g><g id="k8-2"><use href="#NL" x="136" y="426"/></g><g id="k8-3"><use href="#NL" x="188" y="426"/></g><g id="k8-4"><use href="#PL" x="240" y="426"/></g><g id="k8-5"><use href="#PL" x="292" y="426"/></g><g id="k8-6"><use href="#NL" x="344" y="426"/></g><g id="k8-7"><use href="#NL" x="396" y="426"/></g><g id="k8-8"><use href="#NL" x="448" y="426"/></g><g id="k8-9"><use href="#NL" x="500" y="426"/></g><g id="k8-10"><use href="#PL" x="552" y="426"/></g><g id="k8-11"><use href="#PL" x="604" y="426"/></g>
<g id="k9-1"><use href="#PR" x="84" y="478"/></g><g id="k9-2"><use href="#PR" x="136" y="478"/></g><g id="k9-3"><use href="#NR" x="188" y="478"/></g><g id="k9-4"><use href="#NR" x="240" y="478"/></g><g id="k9-5"><use href="#PR" x="292" y="478"/></g><g id="k9-6"><use href="#PR" x="344" y="478"/></g><g id="k9-7"><use href="#YR" x="396" y="478"/></g><g id="k9-8"><use href="#NR" x="448" y="478"/></g><g id="k9-9"><use href="#PR" x="500" y="478"/></g><g id="k9-10"><use href="#NR" x="552" y="478"/></g><g id="k9-11"><use href="#PR" x="604" y="478"/></g>
<g id="k10-1"><use href="#NL" x="84" y="530"/></g><g id="k10-2"><use href="#PL" x="136" y="530"/></g><g id="k10-3"><use href="#PL" x="188" y="530"/></g><g id="k10-4"><use href="#YL" x="240" y="530"/></g><g id="k10-5"><use href="#NL" x="292" y="530"/></g><g id="k10-6"><use href="#PL" x="344" y="530"/></g><g id="k10-7"><use href="#PL" x="396" y="530"/></g><g id="k10-8"><use href="#PL" x="448" y="530"/></g><g id="k10-9"><use href="#NL" x="500" y="530"/></g><g id="k10-10"><use href="#PL" x="552" y="530"/></g><g id="k10-11"><use href="#NL" x="604" y="530"/></g>
<g id="k11-1"><use href="#NR" x="84" y="582"/></g><g id="k11-2"><use href="#NR" x="136" y="582"/></g><g id="k11-3"><use href="#PR" x="188" y="582"/></g><g id="k11-4"><use href="#PR" x="240" y="582"/></g><g id="k11-5"><use href="#NR" x="292" y="582"/></g><g id="k11-6"><use href="#NR" x="344" y="582"/></g><g id="k11-7"><use href="#NR" x="396" y="582"/></g><g id="k11-8"><use href="#NR" x="448" y="582"/></g><g id="k11-9"><use href="#PR" x="500" y="582"/></g><g id="k11-10"><use href="#NR" x="552" y="582"/></g><g id="k11-11"><use href="#NR" x="604" y="582"/></g>
<g id="k12-1"><use href="#NL" x="84" y="634"/></g><g id="k12-2"><use href="#NL" x="136" y="634"/></g><g id="k12-3"><use href="#NL" x="188" y="634"/></g><g id="k12-4"><use href="#PL" x="240" y="634"/></g><g id="k12-5"><use href="#PL" x="292" y="634"/></g><g id="k12-6"><use href="#PL" x="344" y="634"/></g><g id="k12-7"><use href="#PL" x="396" y="634"/></g><g id="k12-8"><use href="#PL" x="448" y="634"/></g><g id="k12-9"><use href="#NL" x="500" y="634"/></g><g id="k12-10"><use href="#NL" x="552" y="634"/></g><g id="k12-11"><use href="#YL" x="604" y="634"/></g>
<g id="k13-1"><use href="#NR" x="84" y="686"/></g><g id="k13-2"><use href="#NR" x="136" y="686"/></g><g id="k13-3"><use href="#YR" x="188" y="686"/></g><g id="k13-4"><use href="#NR" x="240" y="686"/></g><g id="k13-5"><use href="#NR" x="292" y="686"/></g><g id="k13-6"><use href="#NR" x="344" y="686"/></g><g id="k13-7"><use href="#NR" x="396" y="686"/></g><g id="k13-8"><use href="#NR" x="448" y="686"/></g><g id="k13-9"><use href="#NR" x="500" y="686"/></g><g id="k13-10"><use href="#YR" x="552" y="686"/></g><g id="k13-11"><use href="#NR" x="604" y="686"/></g>
<g id="k14-1"><use href="#NL" x="84" y="738"/></g><g id="k14-2"><use href="#NL" x="136" y="738"/></g><g id="k14-3"><use href="#NL" x="188" y="738"/></g><g id="k14-4"><use href="#NL" x="240" y="738"/></g><g id="k14-5"><use href="#NL" x="292" y="738"/></g><g id="k14-6"><use href="#NL" x="344" y="738"/></g><g id="k14-7"><use href="#NL" x="396" y="738"/></g><g id="k14-8"><use href="#NL" x="448" y="738"/></g><g id="k14-9"><use href="#NL" x="500" y="738"/></g><g id="k14-10"><use href="#NL" x="552" y="738"/></g><g id="k14-11"><use href="#NL" x="604" y="738"/></g>
<g id="k15-1"><use href="#NR" x="84" y="790"/></g><g id="k15-2"><use href="#NR" x="136" y="790"/></g><g id="k15-3"><use href="#NR" x="188" y="790"/></g><g id="k15-4"><use href="#NR" x="240" y="790"/></g><g id="k15-5"><use href="#NR" x="292" y="790"/></g><g id="k15-6"><use href="#NR" x="344" y="790"/></g><g id="k15-7"><use href="#YR" x="396" y="790"/></g><g id="k15-8"><use href="#NR" x="448" y="790"/></g><g id="k15-9"><use href="#NR" x="500" y="790"/></g><g id="k15-10"><use href="#NR" x="552" y="790"/></g><g id="k15-11"><use href="#NR" x="604" y="790"/></g>
<g id="k16-1"><use href="#NL" x="84" y="842"/></g><g id="k16-2"><use href="#YL" x="136" y="842"/></g><g id="k16-3"><use href="#NL" x="188" y="842"/></g><g id="k16-4"><use href="#NL" x="240" y="842"/></g><g id="k16-5"><use href="#NL" x="292" y="842"/></g><g id="k16-6"><use href="#YL" x="344" y="842"/></g><g id="k16-7"><use href="#YL" x="396" y="842"/></g><g id="k16-8"><use href="#YL" x="448" y="842"/></g><g id="k16-9"><use href="#NL" x="500" y="842"/></g><g id="k16-10"><use href="#NL" x="552" y="842"/></g><g id="k16-11"><use href="#NL" x="604" y="842"/></g>
<g id="k17-1"><use href="#NR" x="84" y="894"/></g><g id="k17-2"><use href="#YR" x="136" y="894"/></g><g id="k17-3"><use href="#NR" x="188" y="894"/></g><g id="k17-4"><use href="#NR" x="240" y="894"/></g><g id="k17-5"><use href="#NR" x="292" y="894"/></g><g id="k17-6"><use href="#NR" x="344" y="894"/></g><g id="k17-7"><use href="#YR" x="396" y="894"/></g><g id="k17-8"><use href="#NR" x="448" y="894"/></g><g id="k17-9"><use href="#NR" x="500" y="894"/></g><g id="k17-10"><use href="#NR" x="552" y="894"/></g><g id="k17-11"><use href="#NR" x="604" y="894"/></g>
<g id="k18-1"><use href="#PL" x="84" y="946"/></g><g id="k18-2"><use href="#NL" x="136" y="946"/></g><g id="k18-3"><use href="#NL" x="188" y="946"/></g><g id="k18-4"><use href="#NL" x="240" y="946"/></g><g id="k18-5"><use href="#YL" x="292" y="946"/></g><g id="k18-6"><use href="#NL" x="344" y="946"/></g><g id="k18-7"><use href="#NL" x="396" y="946"/></g><g id="k18-8"><use href="#NL" x="448" y="946"/></g><g id="k18-9"><use href="#NL" x="500" y="946"/></g><g id="k18-10"><use href="#YL" x="552" y="946"/></g><g id="k18-11"><use href="#NL" x="604" y="946"/></g>
<g id="k19-1"><use href="#PR" x="84" y="998"/></g><g id="k19-2"><use href="#PR" x="136" y="998"/></g><g id="k19-3"><use href="#NR" x="188" y="998"/></g><g id="k19-4"><use href="#NR" x="240" y="998"/></g><g id="k19-5"><use href="#NR" x="292" y="998"/></g><g id="k19-6"><use href="#NR" x="344" y="998"/></g><g id="k19-7"><use href="#NR" x="396" y="998"/></g><g id="k19-8"><use href="#NR" x="448" y="998"/></g><g id="k19-9"><use href="#NR" x="500" y="998"/></g><g id="k19-10"><use href="#NR" x="552" y="998"/></g><g id="k19-11"><use href="#NR" x="604" y="998"/></g>
<g id="k20-1"><use href="#NL" x="84" y="1050"/></g><g id="k20-2"><use href="#PL" x="136" y="1050"/></g><g id="k20-3"><use href="#PL" x="188" y="1050"/></g><g id="k20-4"><use href="#PL" x="240" y="1050"/></g><g id="k20-5"><use href="#PL" x="292" y="1050"/></g><g id="k20-6"><use href="#NL" x="344" y="1050"/></g><g id="k20-7"><use href="#NL" x="396" y="1050"/></g><g id="k20-8"><use href="#YL" x="448" y="1050"/></g><g id="k20-9"><use href="#NL" x="500" y="1050"/></g><g id="k20-10"><use href="#NL" x="552" y="1050"/></g><g id="k20-11"><use href="#NL" x="604" y="1050"/></g>
<g id="k21-1"><use href="#NR" x="84" y="1102"/></g><g id="k21-2"><use href="#NR" x="136" y="1102"/></g><g id="k21-3"><use href="#NR" x="188" y="1102"/></g><g id="k21-4"><use href="#NR" x="240" y="1102"/></g><g id="k21-5"><use href="#PR" x="292" y="1102"/></g><g id="k21-6"><use href="#PR" x="344" y="1102"/></g><g id="k21-7"><use href="#PR" x="396" y="1102"/></g><g id="k21-8"><use href="#NR" x="448" y="1102"/></g><g id="k21-9"><use href="#NR" x="500" y="1102"/></g><g id="k21-10"><use href="#NR" x="552" y="1102"/></g><g id="k21-11"><use href="#NR" x="604" y="1102"/></g>
<g id="k22-1"><use href="#NL" x="84" y="1154"/></g><g id="k22-2"><use href="#NL" x="136" y="1154"/></g><g id="k22-3"><use href="#DL" x="188" y="1154"/></g><g id="k22-4"><use href="#DL" x="240" y="1154"/></g><g id="k22-5"><use href="#NL" x="292" y="1154"/></g><g id="k22-6"><use href="#NL" x="344" y="1154"/></g><g id="k22-7"><use href="#PL" x="396" y="1154"/></g><g id="k22-8"><use href="#PL" x="448" y="1154"/></g><g id="k22-9"><use href="#PL" x="500" y="1154"/></g><g id="k22-10"><use href="#PL" x="552" y="1154"/></g><g id="k22-11"><use href="#NL" x="604" y="1154"/></g>
<g id="k23-1"><use href="#NR" x="84" y="1206"/></g><g id="k23-2"><use href="#NR" x="136" y="1206"/></g><g id="k23-3"><use href="#DR" x="188" y="1206"/></g><g id="k23-4"><use href="#DR" x="240" y="1206"/></g><g id="k23-5"><use href="#NR" x="292" y="1206"/></g><g id="k23-6"><use href="#NR" x="344" y="1206"/></g><g id="k23-7"><use href="#NR" x="396" y="1206"/></g><g id="k23-8"><use href="#NR" x="448" y="1206"/></g><g id="k23-9"><use href="#NR" x="500" y="1206"/></g><g id="k23-10"><use href="#PR" x="552" y="1206"/></g><g id="k23-11"><use href="#PR" x="604" y="1206"/></g>
<g id="k24-1"><use href="#NL" x="84" y="1258"/></g><g id="k24-2"><use href="#NL" x="136" y="1258"/></g><g id="k24-3"><use href="#DL" x="188" y="1258"/></g><g id="k24-4"><use href="#DL" x="240" y="1258"/></g><g id="k24-5"><use href="#NL" x="292" y="1258"/></g><g id="k24-6"><use href="#DL" x="344" y="1258"/></g><g id="k24-7"><use href="#DL" x="396" y="1258"/></g><g id="k24-8"><use href="#DL" x="448" y="1258"/></g><g id="k24-9"><use href="#NL" x="500" y="1258"/></g><g id="k24-10"><use href="#NL" x="552" y="1258"/></g><g id="k24-11"><use href="#PL" x="604" y="1258"/></g>
<g id="k25-1"><use href="#DR" x="84" y="1310"/></g><g id="k25-2"><use href="#NR" x="136" y="1310"/></g><g id="k25-3"><use href="#NR" x="188" y="1310"/></g><g id="k25-4"><use href="#NR" x="240" y="1310"/></g><g id="k25-5"><use href="#DR" x="292" y="1310"/></g><g id="k25-6"><use href="#DR" x="344" y="1310"/></g><g id="k25-7"><use href="#DR" x="396" y="1310"/></g><g id="k25-8"><use href="#DR" x="448" y="1310"/></g><g id="k25-9"><use href="#DR" x="500" y="1310"/></g><g id="k25-10"><use href="#NR" x="552" y="1310"/></g><g id="k25-11"><use href="#NR" x="604" y="1310"/></g>
<g id="k26-1"><use href="#NL" x="84" y="1362"/></g><g id="k26-2"><use href="#NL" x="136" y="1362"/></g><g id="k26-3"><use href="#DL" x="188" y="1362"/></g><g id="k26-4"><use href="#DL" x="240" y="1362"/></g><g id="k26-5"><use href="#CL" x="292" y="1362"/></g><g id="k26-6"><use href="#CL" x="344" y="1362"/></g><g id="k26-7"><use href="#CL" x="396" y="1362"/></g><g id="k26-8"><use href="#DL" x="448" y="1362"/></g><g id="k26-9"><use href="#DL" x="500" y="1362"/></g><g id="k26-10"><use href="#DL" x="552" y="1362"/></g><g id="k26-11"><use href="#NL" x="604" y="1362"/></g>
<g id="k27-1"><use href="#NR" x="84" y="1414"/></g><g id="k27-2"><use href="#DR" x="136" y="1414"/></g><g id="k27-3"><use href="#CR" x="188" y="1414"/></g><g id="k27-4"><use href="#CR" x="240" y="1414"/></g><g id="k27-5"><use href="#CR" x="292" y="1414"/></g><g id="k27-6"><use href="#CR" x="344" y="1414"/></g><g id="k27-7"><use href="#CR" x="396" y="1414"/></g><g id="k27-8"><use href="#CR" x="448" y="1414"/></g><g id="k27-9"><use href="#CR" x="500" y="1414"/></g><g id="k27-10"><use href="#DR" x="552" y="1414"/></g><g id="k27-11"><use href="#NR" x="604" y="1414"/></g>
<g id="k28-1"><use href="#NL" x="84" y="1466"/></g><g id="k28-2"><use href="#CL" x="136" y="1466"/></g><g id="k28-3"><use href="#CL" x="188" y="1466"/></g><g id="k28-4"><use href="#CL" x="240" y="1466"/></g><g id="k28-5"><use href="#CL" x="292" y="1466"/></g><g id="k28-6"><use href="#CL" x="344" y="1466"/></g><g id="k28-7"><use href="#DL" x="396" y="1466"/></g><g id="k28-8"><use href="#DL" x="448" y="1466"/></g><g id="k28-9"><use href="#DL" x="500" y="1466"/></g><g id="k28-10"><use href="#CL" x="552" y="1466"/></g><g id="k28-11"><use href="#NL" x="604" y="1466"/></g>
<g id="k29-1"><use href="#DR" x="84" y="1518"/></g><g id="k29-2"><use href="#CR" x="136" y="1518"/></g><g id="k29-3"><use href="#CR" x="188" y="1518"/></g><g id="k29-4"><use href="#CR" x="240" y="1518"/></g><g id="k29-5"><use href="#CR" x="292" y="1518"/></g><g id="k29-6"><use href="#DR" x="344" y="1518"/></g><g id="k29-7"><use href="#DR" x="396" y="1518"/></g><g id="k29-8"><use href="#DR" x="448" y="1518"/></g><g id="k29-9"><use href="#DR" x="500" y="1518"/></g><g id="k29-10"><use href="#DR" x="552" y="1518"/></g><g id="k29-11"><use href="#DR" x="604" y="1518"/></g>
<g id="k30-1"><use href="#DL" x="84" y="1570"/></g><g id="k30-2"><use href="#CL" x="136" y="1570"/></g><g id="k30-3"><use href="#CL" x="188" y="1570"/></g><g id="k30-4"><use href="#CL" x="240" y="1570"/></g><g id="k30-5"><use href="#CL" x="292" y="1570"/></g><g id="k30-6"><use href="#DL" x="344" y="1570"/></g><g id="k30-7"><use href="#DL" x="396" y="1570"/></g><g id="k30-8"><use href="#DL" x="448" y="1570"/></g><g id="k30-9"><use href="#DL" x="500" y="1570"/></g><g id="k30-10"><use href="#DL" x="552" y="1570"/></g><g id="k30-11"><use href="#DL" x="604" y="1570"/></g>
<g id="k31-1"><use href="#DR" x="84" y="1622"/></g><g id="k31-2"><use href="#CR" x="136" y="1622"/></g><g id="k31-3"><use href="#CR" x="188" y="1622"/></g><g id="k31-4"><use href="#CR" x="240" y="1622"/></g><g id="k31-5"><use href="#CR" x="292" y="1622"/></g><g id="k31-6"><use href="#CR" x="344" y="1622"/></g><g id="k31-7"><use href="#DR" x="396" y="1622"/></g><g id="k31-8"><use href="#DR" x="448" y="1622"/></g><g id="k31-9"><use href="#DR" x="500" y="1622"/></g><g id="k31-10"><use href="#CR" x="552" y="1622"/></g><g id="k31-11"><use href="#DR" x="604" y="1622"/></g>
<g id="k32-1"><use href="#DL" x="84" y="1674"/></g><g id="k32-2"><use href="#DL" x="136" y="1674"/></g><g id="k32-3"><use href="#CL" x="188" y="1674"/></g><g id="k32-4"><use href="#CL" x="240" y="1674"/></g><g id="k32-5"><use href="#CL" x="292" y="1674"/></g><g id="k32-6"><use href="#CL" x="344" y="1674"/></g><g id="k32-7"><use href="#CL" x="396" y="1674"/></g><g id="k32-8"><use href="#CL" x="448" y="1674"/></g><g id="k32-9"><use href="#CL" x="500" y="1674"/></g><g id="k32-10"><use href="#DL" x="552" y="1674"/></g><g id="k32-11"><use href="#NL" x="604" y="1674"/></g>
<g id="k33-1"><use href="#NR" x="84" y="1726"/></g><g id="k33-2"><use href="#DR" x="136" y="1726"/></g><g id="k33-3"><use href="#DR" x="188" y="1726"/></g><g id="k33-4"><use href="#DR" x="240" y="1726"/></g><g id="k33-5"><use href="#CR" x="292" y="1726"/></g><g id="k33-6"><use href="#CR" x="344" y="1726"/></g><g id="k33-7"><use href="#CR" x="396" y="1726"/></g><g id="k33-8"><use href="#DR" x="448" y="1726"/></g><g id="k33-9"><use href="#DR" x="500" y="1726"/></g><g id="k33-10"><use href="#NR" x="552" y="1726"/></g><g id="k33-11"><use href="#NR" x="604" y="1726"/></g>
<g id="k34-1"><use href="#NL" x="84" y="1778"/></g><g id="k34-2"><use href="#NL" x="136" y="1778"/></g><g id="k34-3"><use href="#DL" x="188" y="1778"/></g><g id="k34-4"><use href="#DL" x="240" y="1778"/></g><g id="k34-5"><use href="#DL" x="292" y="1778"/></g><g id="k34-6"><use href="#DL" x="344" y="1778"/></g><g id="k34-7"><use href="#DL" x="396" y="1778"/></g><g id="k34-8"><use href="#DL" x="448" y="1778"/></g><g id="k34-9"><use href="#NL" x="500" y="1778"/></g><g id="k34-10"><use href="#NL" x="552" y="1778"/></g><g id="k34-11"><use href="#NL" x="604" y="1778"/></g>
<g id="k35-1"><use href="#NR" x="84" y="1830"/></g><g id="k35-2"><use href="#NR" x="136" y="1830"/></g><g id="k35-3"><use href="#NR" x="188" y="1830"/></g><g id="k35-4"><use href="#DR" x="240" y="1830"/></g><g id="k35-5"><use href="#DR" x="292" y="1830"/></g><g id="k35-6"><use href="#DR" x="344" y="1830"/></g><g id="k35-7"><use href="#DR" x="396" y="1830"/></g><g id="k35-8"><use href="#NR" x="448" y="1830"/></g><g id="k35-9"><use href="#NR" x="500" y="1830"/></g><g id="k35-10"><use href="#DR" x="552" y="1830"/></g><g id="k35-11"><use href="#NR" x="604" y="1830"/></g>
<g id="k36-1"><use href="#NL" x="84" y="1882"/></g><g id="k36-2"><use href="#NL" x="136" y="1882"/></g><g id="k36-3"><use href="#NL" x="188" y="1882"/></g><g id="k36-4"><use href="#NL" x="240" y="1882"/></g><g id="k36-5"><use href="#NL" x="292" y="1882"/></g><g id="k36-6"><use href="#NL" x="344" y="1882"/></g><g id="k36-7"><use href="#NL" x="396" y="1882"/></g><g id="k36-8"><use href="#NL" x="448" y="1882"/></g><g id="k36-9"><use href="#NL" x="500" y="1882"/></g><g id="k36-10"><use href="#NL" x="552" y="1882"/></g><g id="k36-11"><use href="#NL" x="604" y="1882"/></g>
<g id="k37-1"><use href="#PR" x="84" y="1934"/></g><g id="k37-2"><use href="#NR" x="136" y="1934"/></g><g id="k37-3"><use href="#NR" x="188" y="1934"/></g><g id="k37-4"><use href="#NR" x="240" y="1934"/></g><g id="k37-5"><use href="#NR" x="292" y="1934"/></g><g id="k37-6"><use href="#NR" x="344" y="1934"/></g><g id="k37-7"><use href="#DR" x="396" y="1934"/></g><g id="k37-8"><use href="#DR" x="448" y="1934"/></g><g id="k37-9"><use href="#NR" x="500" y="1934"/></g><g id="k37-10"><use href="#NR" x="552" y="1934"/></g><g id="k37-11"><use href="#NR" x="604" y="1934"/></g>
<g id="k38-1"><use href="#PL" x="84" y="1986"/></g><g id="k38-2"><use href="#PL" x="136" y="1986"/></g><g id="k38-3"><use href="#NL" x="188" y="1986"/></g><g id="k38-4"><use href="#NL" x="240" y="1986"/></g><g id="k38-5"><use href="#NL" x="292" y="1986"/></g><g id="k38-6"><use href="#NL" x="344" y="1986"/></g><g id="k38-7"><use href="#DL" x="396" y="1986"/></g><g id="k38-8"><use href="#DL" x="448" y="1986"/></g><g id="k38-9"><use href="#NL" x="500" y="1986"/></g><g id="k38-10"><use href="#NL" x="552" y="1986"/></g><g id="k38-11"><use href="#NL" x="604" y="1986"/></g>
<g id="k39-1"><use href="#NR" x="84" y="2038"/></g><g id="k39-2"><use href="#PR" x="136" y="2038"/></g><g id="k39-3"><use href="#PR" x="188" y="2038"/></g><g id="k39-4"><use href="#PR" x="240" y="2038"/></g><g id="k39-5"><use href="#PR" x="292" y="2038"/></g><g id="k39-6"><use href="#NR" x="344" y="2038"/></g><g id="k39-7"><use href="#DR" x="396" y="2038"/></g><g id="k39-8"><use href="#DR" x="448" y="2038"/></g><g id="k39-9"><use href="#NR" x="500" y="2038"/></g><g id="k39-10"><use href="#NR" x="552" y="2038"/></g><g id="k39-11"><use href="#NR" x="604" y="2038"/></g>
<g id="k40-1"><use href="#NL" x="84" y="2090"/></g><g id="k40-2"><use href="#NL" x="136" y="2090"/></g><g id="k40-3"><use href="#NL" x="188" y="2090"/></g><g id="k40-4"><use href="#NL" x="240" y="2090"/></g><g id="k40-5"><use href="#PL" x="292" y="2090"/></g><g id="k40-6"><use href="#PL" x="344" y="2090"/></g><g id="k40-7"><use href="#PL" x="396" y="2090"/></g><g id="k40-8"><use href="#NL" x="448" y="2090"/></g><g id="k40-9"><use href="#NL" x="500" y="2090"/></g><g id="k40-10"><use href="#NL" x="552" y="2090"/></g><g id="k40-11"><use href="#NL" x="604" y="2090"/></g>
<g id="k41-1"><use href="#NR" x="84" y="2142"/></g><g id="k41-2"><use href="#YR" x="136" y="2142"/></g><g id="k41-3"><use href="#NR" x="188" y="2142"/></g><g id="k41-4"><use href="#NR" x="240" y="2142"/></g><g id="k41-5"><use href="#NR" x="292" y="2142"/></g><g id="k41-6"><use href="#NR" x="344" y="2142"/></g><g id="k41-7"><use href="#PR" x="396" y="2142"/></g><g id="k41-8"><use href="#PR" x="448" y="2142"/></g><g id="k41-9"><use href="#PR" x="500" y="2142"/></g><g id="k41-10"><use href="#PR" x="552" y="2142"/></g><g id="k41-11"><use href="#NR" x="604" y="2142"/></g>
<g id="k42-1"><use href="#NL" x="84" y="2194"/></g><g id="k42-2"><use href="#NL" x="136" y="2194"/></g><g id="k42-3"><use href="#NL" x="188" y="2194"/></g><g id="k42-4"><use href="#NL" x="240" y="2194"/></g><g id="k42-5"><use href="#YL" x="292" y="2194"/></g><g id="k42-6"><use href="#NL" x="344" y="2194"/></g><g id="k42-7"><use href="#NL" x="396" y="2194"/></g><g id="k42-8"><use href="#NL" x="448" y="2194"/></g><g id="k42-9"><use href="#NL" x="500" y="2194"/></g><g id="k42-10"><use href="#PL" x="552" y="2194"/></g><g id="k42-11"><use href="#PL" x="604" y="2194"/></g>
<g id="k43-1"><use href="#NR" x="84" y="2246"/></g><g id="k43-2"><use href="#YR" x="136" y="2246"/></g><g id="k43-3"><use href="#NR" x="188" y="2246"/></g><g id="k43-4"><use href="#NR" x="240" y="2246"/></g><g id="k43-5"><use href="#NR" x="292" y="2246"/></g><g id="k43-6"><use href="#NR" x="344" y="2246"/></g><g id="k43-7"><use href="#NR" x="396" y="2246"/></g><g id="k43-8"><use href="#NR" x="448" y="2246"/></g><g id="k43-9"><use href="#NR" x="500" y="2246"/></g><g id="k43-10"><use href="#NR" x="552" y="2246"/></g><g id="k43-11"><use href="#PR" x="604" y="2246"/></g>
<g id="k44-1"><use href="#NL" x="84" y="2298"/></g><g id="k44-2"><use href="#NL" x="136" y="2298"/></g><g id="k44-3"><use href="#NL" x="188" y="2298"/></g><g id="k44-4"><use href="#NL" x="240" y="2298"/></g><g id="k44-5"><use href="#NL" x="292" y="2298"/></g><g id="k44-6"><use href="#NL" x="344" y="2298"/></g><g id="k44-7"><use href="#NL" x="396" y="2298"/></g><g id="k44-8"><use href="#NL" x="448" y="2298"/></g><g id="k44-9"><use href="#NL" x="500" y="2298"/></g><g id="k44-10"><use href="#NL" x="552" y="2298"/></g><g id="k44-11"><use href="#NL" x="604" y="2298"/></g>
<g id="k45-1"><use href="#NR" x="84" y="2350"/></g><g id="k45-2"><use href="#NR" x="136" y="2350"/></g><g id="k45-3"><use href="#NR" x="188" y="2350"/></g><g id="k45-4"><use href="#NR" x="240" y="2350"/></g><g id="k45-5"><use href="#NR" x="292" y="2350"/></g><g id="k45-6"><use href="#NR" x="344" y="2350"/></g><g id="k45-7"><use href="#NR" x="396" y="2350"/></g><g id="k45-8"><use href="#YR" x="448" y="2350"/></g><g id="k45-9"><use href="#NR" x="500" y="2350"/></g><g id="k45-10"><use href="#NR" x="552" y="2350"/></g><g id="k45-11"><use href="#NR" x="604" y="2350"/></g>
<g id="k46-1"><use href="#NL" x="84" y="2402"/></g><g id="k46-2"><use href="#NL" x="136" y="2402"/></g><g id="k46-3"><use href="#NL" x="188" y="2402"/></g><g id="k46-4"><use href="#YL" x="240" y="2402"/></g><g id="k46-5"><use href="#NL" x="292" y="2402"/></g><g id="k46-6"><use href="#NL" x="344" y="2402"/></g><g id="k46-7"><use href="#NL" x="396" y="2402"/></g><g id="k46-8"><use href="#NL" x="448" y="2402"/></g><g id="k46-9"><use href="#NL" x="500" y="2402"/></g><g id="k46-10"><use href="#NL" x="552" y="2402"/></g><g id="k46-11"><use href="#YL" x="604" y="2402"/></g>
<g id="k47-1"><use href="#NR" x="84" y="2454"/></g><g id="k47-2"><use href="#NR" x="136" y="2454"/></g><g id="k47-3"><use href="#YR" x="188" y="2454"/></g><g id="k47-4"><use href="#YR" x="240" y="2454"/></g><g id="k47-5"><use href="#YR" x="292" y="2454"/></g><g id="k47-6"><use href="#NR" x="344" y="2454"/></g><g id="k47-7"><use href="#NR" x="396" y="2454"/></g><g id="k47-8"><use href="#NR" x="448" y="2454"/></g><g id="k47-9"><use href="#NR" x="500" y="2454"/></g><g id="k47-10"><use href="#NR" x="552" y="2454"/></g><g id="k47-11"><use href="#NR" x="604" y="2454"/></g>
<g id="k48-1"><use href="#NL" x="84" y="2506"/></g><g id="k48-2"><use href="#NL" x="136" y="2506"/></g><g id="k48-3"><use href="#NL" x="188" y="2506"/></g><g id="k48-4"><use href="#YL" x="240" y="2506"/></g><g id="k48-5"><use href="#NL" x="292" y="2506"/></g><g id="k48-6"><use href="#NL" x="344" y="2506"/></g><g id="k48-7"><use href="#YL" x="396" y="2506"/></g><g id="k48-8"><use href="#NL" x="448" y="2506"/></g><g id="k48-9"><use href="#NL" x="500" y="2506"/></g><g id="k48-10"><use href="#NL" x="552" y="2506"/></g><g id="k48-11"><use href="#NL" x="604" y="2506"/></g>
<g id="k49-1"><use href="#NR" x="84" y="2558"/></g><g id="k49-2"><use href="#NR" x="136" y="2558"/></g><g id="k49-3"><use href="#NR" x="188" y="2558"/></g><g id="k49-4"><use href="#NR" x="240" y="2558"/></g><g id="k49-5"><use href="#NR" x="292" y="2558"/></g><g id="k49-6"><use href="#NR" x="344" y="2558"/></g><g id="k49-7"><use href="#NR" x="396" y="2558"/></g><g id="k49-8"><use href="#NR" x="448" y="2558"/></g><g id="k49-9"><use href="#YR" x="500" y="2558"/></g><g id="k49-10"><use href="#NR" x="552" y="2558"/></g><g id="k49-11"><use href="#NR" x="604" y="2558"/></g>
<g id="k50-1"><use href="#PL" x="84" y="2610"/></g><g id="k50-2"><use href="#NL" x="136" y="2610"/></g><g id="k50-3"><use href="#NL" x="188" y="2610"/></g><g id="k50-4"><use href="#NL" x="240" y="2610"/></g><g id="k50-5"><use href="#NL" x="292" y="2610"/></g><g id="k50-6"><use href="#YL" x="344" y="2610"/></g><g id="k50-7"><use href="#NL" x="396" y="2610"/></g><g id="k50-8"><use href="#NL" x="448" y="2610"/></g><g id="k50-9"><use href="#NL" x="500" y="2610"/></g><g id="k50-10"><use href="#NL" x="552" y="2610"/></g><g id="k50-11"><use href="#NL" x="604" y="2610"/></g>
<g id="k51-1"><use href="#PR" x="84" y="2662"/></g><g id="k51-2"><use href="#PR" x="136" y="2662"/></g><g id="k51-3"><use href="#NR" x="188" y="2662"/></g><g id="k51-4"><use href="#NR" x="240" y="2662"/></g><g id="k51-5"><use href="#NR" x="292" y="2662"/></g><g id="k51-6"><use href="#NR" x="344" y="2662"/></g><g id="k51-7"><use href="#NR" x="396" y="2662"/></g><g id="k51-8"><use href="#NR" x="448" y="2662"/></g><g id="k51-9"><use href="#NR" x="500" y="2662"/></g><g id="k51-10"><use href="#NR" x="552" y="2662"/></g><g id="k51-11"><use href="#NR" x="604" y="2662"/></g>
<g id="k52-1"><use href="#NL" x="84" y="2714"/></g><g id="k52-2"><use href="#PL" x="136" y="2714"/></g><g id="k52-3"><use href="#PL" x="188" y="2714"/></g><g id="k52-4"><use href="#NL" x="240" y="2714"/></g><g id="k52-5"><use href="#NL" x="292" y="2714"/></g><g id="k52-6"><use href="#NL" x="344" y="2714"/></g><g id="k52-7"><use href="#NL" x="396" y="2714"/></g><g id="k52-8"><use href="#NL" x="448" y="2714"/></g><g id="k52-9"><use href="#NL" x="500" y="2714"/></g><g id="k52-10"><use href="#YL" x="552" y="2714"/></g><g id="k52-11"><use href="#NL" x="604" y="2714"/></g>
<g id="k53-1"><use href="#NR" x="84" y="2766"/></g><g id="k53-2"><use href="#NR" x="136" y="2766"/></g><g id="k53-3"><use href="#PR" x="188" y="2766"/></g><g id="k53-4"><use href="#PR" x="240" y="2766"/></g><g id="k53-5"><use href="#NR" x="292" y="2766"/></g><g id="k53-6"><use href="#NR" x="344" y="2766"/></g><g id="k53-7"><use href="#NR" x="396" y="2766"/></g><g id="k53-8"><use href="#YR" x="448" y="2766"/></g><g id="k53-9"><use href="#NR" x="500" y="2766"/></g><g id="k53-10"><use href="#NR" x="552" y="2766"/></g><g id="k53-11"><use href="#NR" x="604" y="2766"/></g>
<g id="k54-1"><use href="#NL" x="84" y="2818"/></g><g id="k54-2"><use href="#NL" x="136" y="2818"/></g><g id="k54-3"><use href="#NL" x="188" y="2818"/></g><g id="k54-4"><use href="#PL" x="240" y="2818"/></g><g id="k54-5"><use href="#PL" x="292" y="2818"/></g><g id="k54-6"><use href="#NL" x="344" y="2818"/></g><g id="k54-7"><use href="#YL" x="396" y="2818"/></g><g id="k54-8"><use href="#NL" x="448" y="2818"/></g><g id="k54-9"><use href="#NL" x="500" y="2818"/></g><g id="k54-10"><use href="#NL" x="552" y="2818"/></g><g id="k54-11"><use href="#NL" x="604" y="2818"/></g>
<g id="k55-1"><use href="#NR" x="84" y="2870"/></g><g id="k55-2"><use href="#YR" x="136" y="2870"/></g><g id="k55-3"><use href="#NR" x="188" y="2870"/></g><g id="k55-4"><use href="#NR" x="240" y="2870"/></g><g id="k55-5"><use href="#PR" x="292" y="2870"/></g><g id="k55-6"><use href="#PR" x="344" y="2870"/></g><g id="k55-7"><use href="#NR" x="396" y="2870"/></g><g id="k55-8"><use href="#NR" x="448" y="2870"/></g><g id="k55-9"><use href="#NR" x="500" y="2870"/></g><g id="k55-10"><use href="#NR" x="552" y="2870"/></g><g id="k55-11"><use href="#NR" x="604" y="2870"/></g>
<g id="k56-1"><use href="#NL" x="84" y="2922"/></g><g id="k56-2"><use href="#NL" x="136" y="2922"/></g><g id="k56-3"><use href="#NL" x="188" y="2922"/></g><g id="k56-4"><use href="#NL" x="240" y="2922"/></g><g id="k56-5"><use href="#NL" x="292" y="2922"/></g><g id="k56-6"><use href="#PL" x="344" y="2922"/></g><g id="k56-7"><use href="#PL" x="396" y="2922"/></g><g id="k56-8"><use href="#NL" x="448" y="2922"/></g><g id="k56-9"><use href="#NL" x="500" y="2922"/></g><g id="k56-10"><use href="#YL" x="552" y="2922"/></g><g id="k56-11"><use href="#NL" x="604" y="2922"/></g>
<g id="k57-1"><use href="#NR" x="84" y="2974"/></g><g id="k57-2"><use href="#NR" x="136" y="2974"/></g><g id="k57-3"><use href="#YR" x="188" y="2974"/></g><g id="k57-4"><use href="#NR" x="240" y="2974"/></g><g id="k57-5"><use href="#NR" x="292" y="2974"/></g><g id="k57-6"><use href="#NR" x="344" y="2974"/></g><g id="k57-7"><use href="#PR" x="396" y="2974"/></g><g id="k57-8"><use href="#PR" x="448" y="2974"/></g><g id="k57-9"><use href="#NR" x="500" y="2974"/></g><g id="k57-10"><use href="#NR" x="552" y="2974"/></g><g id="k57-11"><use href="#NR" x="604" y="2974"/></g>
<g id="k58-1"><use href="#NL" x="84" y="3026"/></g><g id="k58-2"><use href="#NL" x="136" y="3026"/></g><g id="k58-3"><use href="#NL" x="188" y="3026"/></g><g id="k58-4"><use href="#NL" x="240" y="3026"/></g><g id="k58-5"><use href="#NL" x="292" y="3026"/></g><g id="k58-6"><use href="#NL" x="344" y="3026"/></g><g id="k58-7"><use href="#NL" x="396" y="3026"/></g><g id="k58-8"><use href="#PL" x="448" y="3026"/></g><g id="k58-9"><use href="#PL" x="500" y="3026"/></g><g id="k58-10"><use href="#NL" x="552" y="3026"/></g><g id="k58-11"><use href="#NL" x="604" y="3026"/></g>
<g id="k59-1"><use href="#NR" x="84" y="3078"/></g><g id="k59-2"><use href="#NR" x="136" y="3078"/></g><g id="k59-3"><use href="#NR" x="188" y="3078"/></g><g id="k59-4"><use href="#PR" x="240" y="3078"/></g><g id="k59-5"><use href="#PR" x="292" y="3078"/></g><g id="k59-6"><use href="#NR" x="344" y="3078"/></g><g id="k59-7"><use href="#NR" x="396" y="3078"/></g><g id="k59-8"><use href="#PR" x="448" y="3078"/></g><g id="k59-9"><use href="#PR" x="500" y="3078"/></g><g id="k59-10"><use href="#NR" x="552" y="3078"/></g><g id="k59-11"><use href="#NR" x="604" y="3078"/></g>
</g>
<g id="stub-labels">
<text class="st" x="35" y="65.5">A</text>
<text class="st" x="653" y="1157.5" fill="#fff">D</text>
<text class="st" x="653" y="1365.5">C</text>
<text class="st" x="653" y="1729.5">C</text>
<text class="st" x="653" y="2041.5" fill="#fff">D</text>
<text class="st" x="653" y="2977.5">A</text>
<text class="st" x="653" y="3081.5" fill="#fff">B</text>
</g>
<g id="row-labels" class="lb">
<g text-anchor="end">
<text x="21" y="66.5">1</text><text x="21" y="118.5">2</text><text x="21" y="170.5">3</text><text x="21" y="222.5">4</text><text x="21" y="274.5">5</text><text x="21" y="326.5">6</text><text x="21" y="378.5">7</text><text x="21" y="430.5">8</text><text x="21" y="482.5">9</text><text x="21" y="534.5">10</text><text x="21" y="586.5">11</text><text x="21" y="638.5">12</text><text x="21" y="690.5">13</text><text x="21" y="742.5">14</text><text x="21" y="794.5">15</text><text x="21" y="846.5">16</text><text x="21" y="898.5">17</text><text x="21" y="950.5">18</text><text x="21" y="1002.5">19</text><text x="21" y="1054.5">20</text><text x="21" y="1106.5">21</text><text x="21" y="1158.5">22</text><text x="21" y="1210.5">23</text><text x="21" y="1262.5">24</text><text x="21" y="1314.5">25</text><text x="21" y="1366.5">26</text><text x="21" y="1418.5">27</text><text x="21" y="1470.5">28</text><text x="21" y="1522.5">29</text><text x="21" y="1574.5">30</text><text x="21" y="1626.5">31</text><text x="21" y="1678.5">32</text><text x="21" y="1730.5">33</text><text x="21" y="1782.5">34</text><text x="21" y="1834.5">35</text><text x="21" y="1886.5">36</text><text x="21" y="1938.5">37</text><text x="21" y="1990.5">38</text><text x="21" y="2042.5">39</text><text x="21" y="2094.5">40</text><text x="21" y="2146.5">41</text><text x="21" y="2198.5">42</text><text x="21" y="2250.5">43</text><text x="21" y="2302.5">44</text><text x="21" y="2354.5">45</text><text x="21" y="2406.5">46</text><text x="21" y="2458.5">47</text><text x="21" y="2510.5">48</text><text x="21" y="2562.5">49</text><text x="21" y="2614.5">50</text><text x="21" y="2666.5">51</text><text x="21" y="2718.5">52</text><text x="21" y="2770.5">53</text><text x="21" y="2822.5">54</text><text x="21" y="2874.5">55</text><text x="21" y="2926.5">56</text><text x="21" y="2978.5">57</text><text x="21" y="3030.5">58</text><text x="21" y="3082.5">59</text>
</g>
<g text-anchor="start">
<text x="667" y="66.5">1</text><text x="667" y="118.5">2</text><text x="667" y="170.5">3</text><text x="667" y="222.5">4</text><text x="667" y="274.5">5</text><text x="667" y="326.5">6</text><text x="667" y="378.5">7</text><text x="667" y="430.5">8</text><text x="667" y="482.5">9</text><text x="667" y="534.5">10</text><text x="667" y="586.5">11</text><text x="667" y="638.5">12</text><text x="667" y="690.5">13</text><text x="667" y="742.5">14</text><text x="667" y="794.5">15</text><text x="667" y="846.5">16</text><text x="667" y="898.5">17</text><text x="667" y="950.5">18</text><text x="667" y="1002.5">19</text><text x="667" y="1054.5">20</text><text x="667" y="1106.5">21</text><text x="667" y="1158.5">22</text><text x="667" y="1210.5">23</text><text x="667" y="1262.5">24</text><text x="667" y="1314.5">25</text><text x="667" y="1366.5">26</text><text x="667" y="1418.5">27</text><text x="667" y="1470.5">28</text><text x="667" y="1522.5">29</text><text x="667" y="1574.5">30</text><text x="667" y="1626.5">31</text><text x="667" y="1678.5">32</text><text x="667" y="1730.5">33</text><text x="667" y="1782.5">34</text><text x="667" y="1834.5">35</text><text x="667" y="1886.5">36</text><text x="667" y="1938.5">37</text><text x="667" y="1990.5">38</text><text x="667" y="2042.5">39</text><text x="667" y="2094.5">40</text><text x="667" y="2146.5">41</text><text x="667" y="2198.5">42</text><text x="667" y="2250.5">43</text><text x="667" y="2302.5">44</text><text x="667" y="2354.5">45</text><text x="667" y="2406.5">46</text><text x="667" y="2458.5">47</text><text x="667" y="2510.5">48</text><text x="667" y="2562.5">49</text><text x="667" y="2614.5">50</text><text x="667" y="2666.5">51</text><text x="667" y="2718.5">52</text><text x="667" y="2770.5">53</text><text x="667" y="2822.5">54</text><text x="667" y="2874.5">55</text><text x="667" y="2926.5">56</text><text x="667" y="2978.5">57</text><text x="667" y="3030.5">58</text><text x="667" y="3082.5">59</text>
</g>
</g>
<text id="watermark" x="346" y="1601" text-anchor="middle" font-family="'Liberation Sans',Arial,sans-serif" font-size="15" font-weight="bold" fill="#333" stroke="#fff" stroke-width="0.6" paint-order="stroke" textLength="154" lengthAdjust="spacingAndGlyphs">BRACELETBOOK.COM</text>
</svg>
